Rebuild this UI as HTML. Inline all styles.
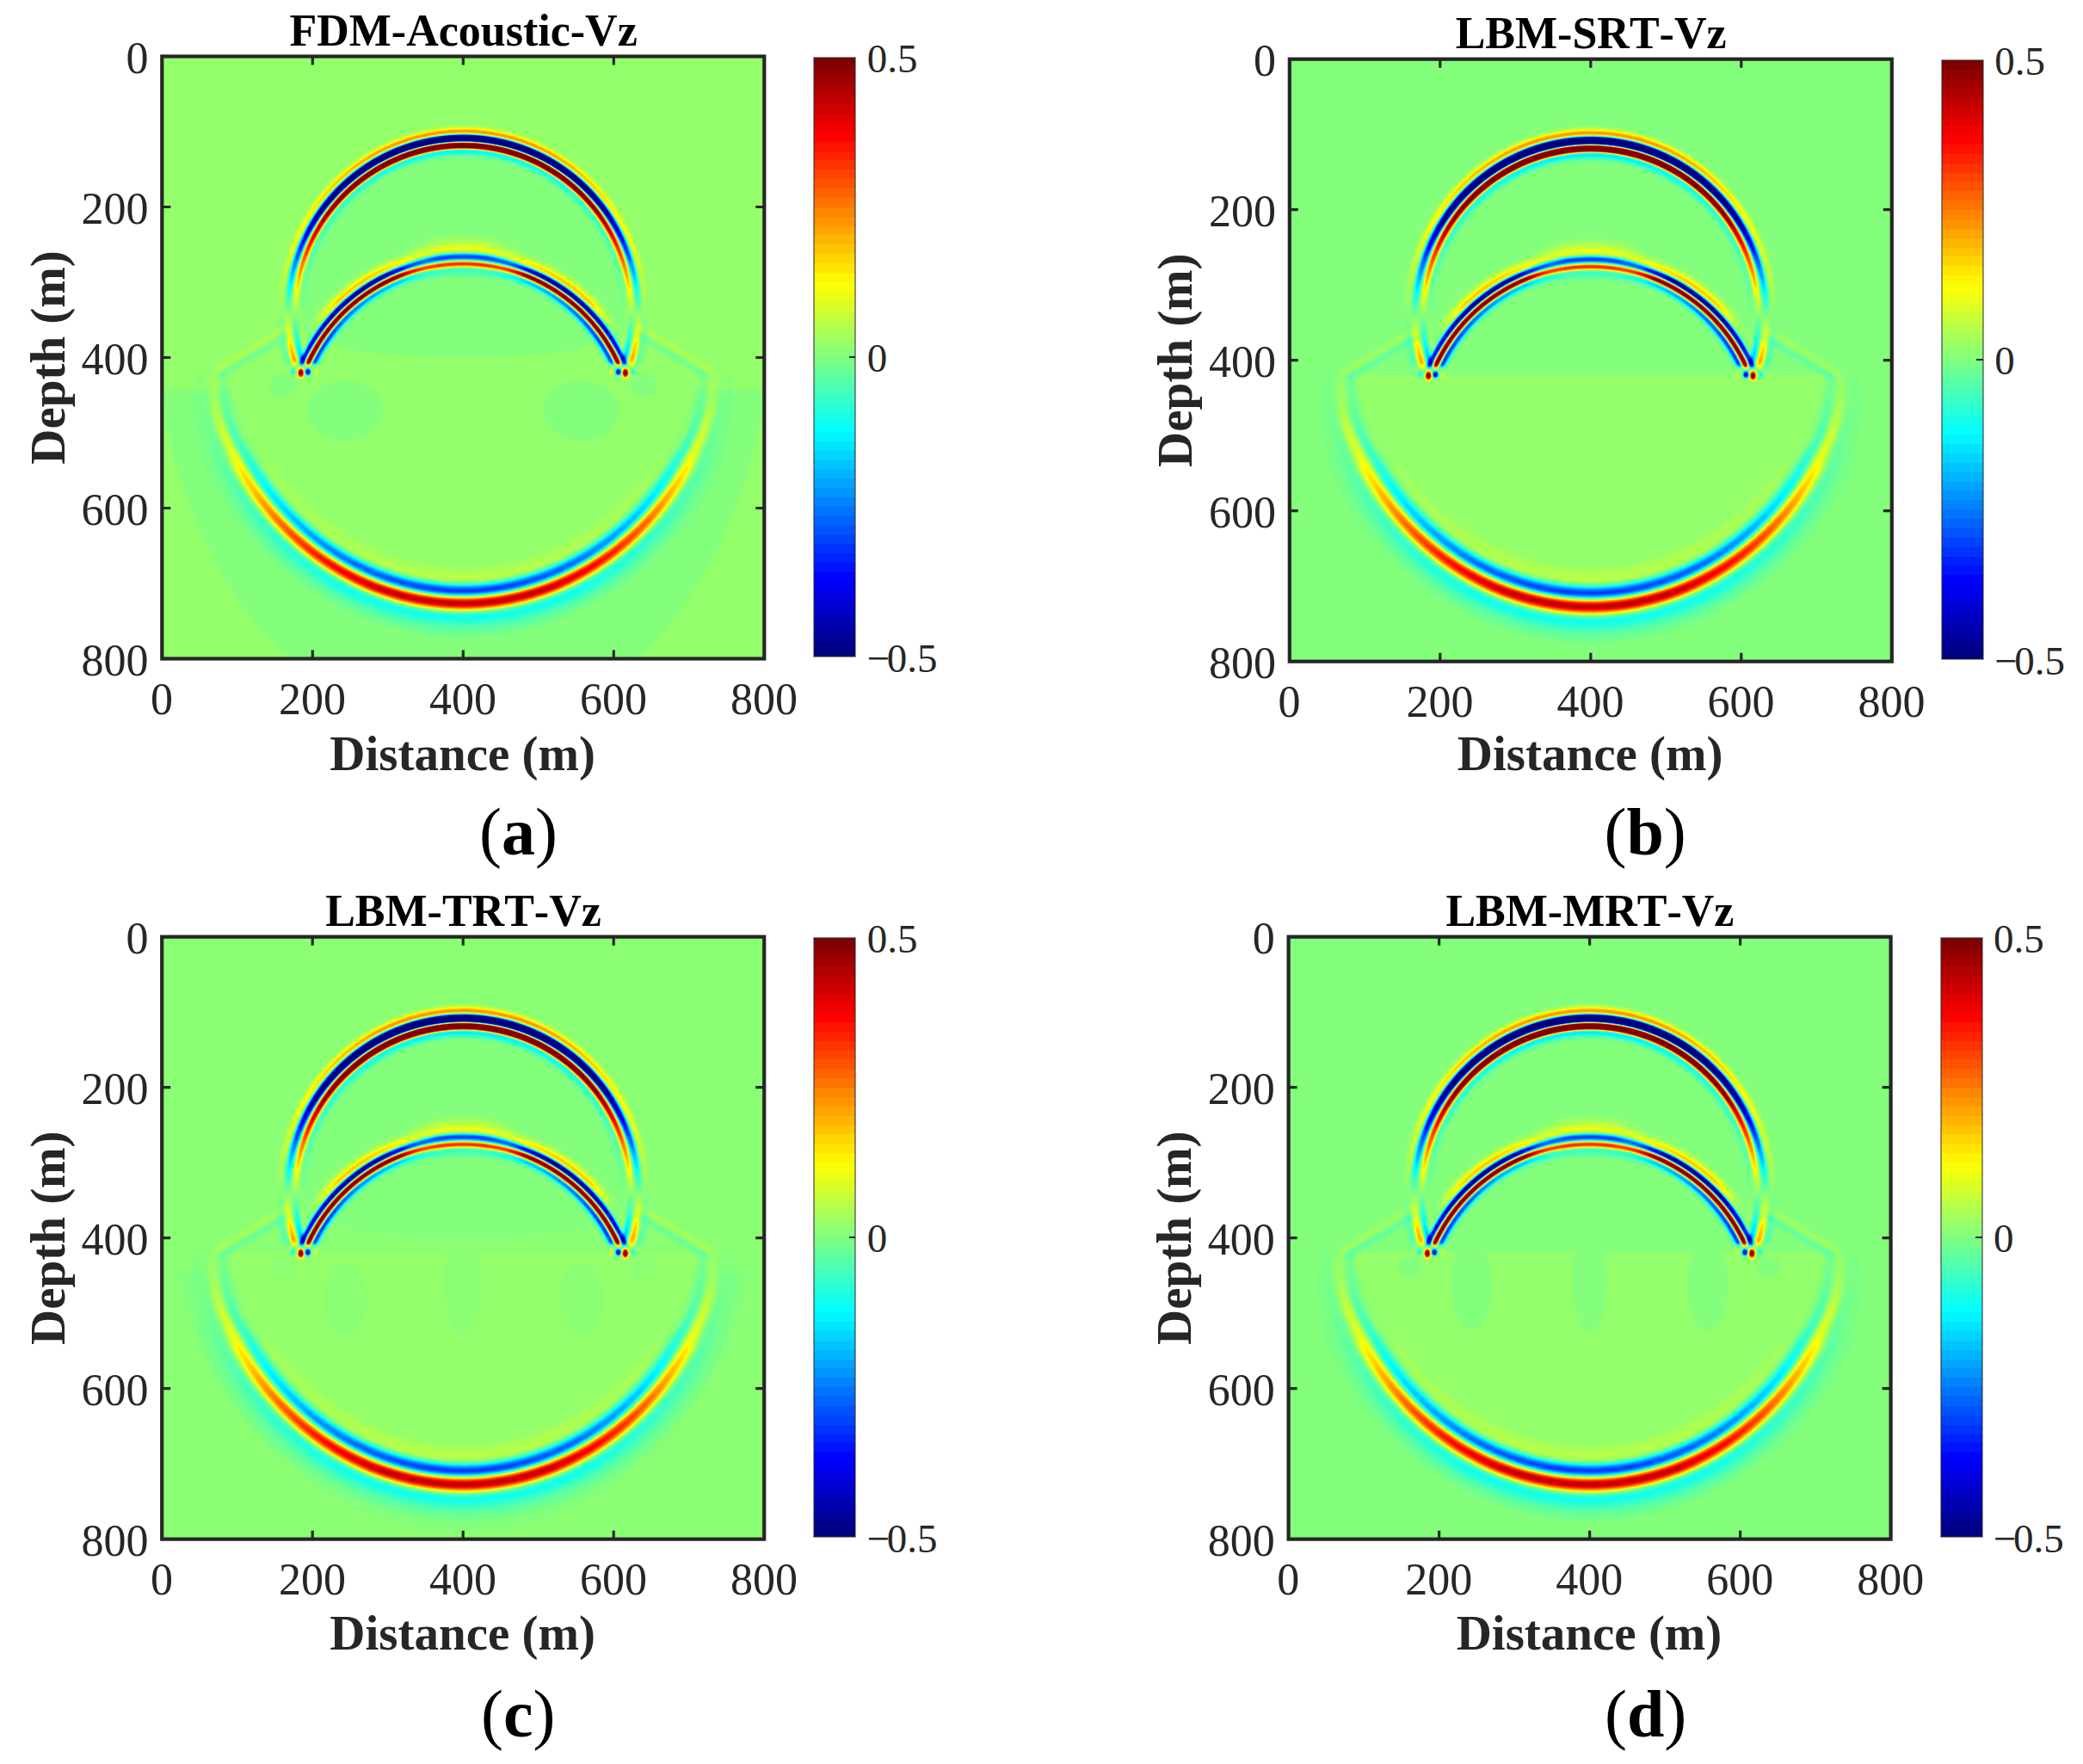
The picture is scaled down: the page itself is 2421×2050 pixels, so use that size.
<!DOCTYPE html>
<html lang="en"><head><meta charset="utf-8"><title>Vz wavefield snapshots</title>
<style>html,body{margin:0;padding:0;background:#fff}svg{display:block}</style></head>
<body>
<svg width="2421" height="2050" viewBox="0 0 2421 2050" style="font-kerning:none">
<defs>
<filter id="jet" filterUnits="userSpaceOnUse" x="-5" y="-5" width="710" height="710" color-interpolation-filters="sRGB"><feGaussianBlur stdDeviation="1.5"/><feComponentTransfer><feFuncR type="table" tableValues="0 0 0 0 0 0 0 0 0.5 1 1 1 0.5 0.5 0.5 0.5 0.5"/><feFuncG type="table" tableValues="0 0 0 0 0 0 0.5 1 1 1 0.5 0 0 0 0 0 0"/><feFuncB type="table" tableValues="0.5 0.5 0.5 0.5 0.5 1 1 1 0.5 0 0 0 0 0 0 0 0"/></feComponentTransfer></filter>
<linearGradient id="lDu" gradientUnits="userSpaceOnUse" x1="0" y1="0" x2="0" y2="700"><stop offset="0" stop-color="#fff" stop-opacity="1"/><stop offset="0.1433" stop-color="#fff" stop-opacity="1"/><stop offset="0.2849" stop-color="#fff" stop-opacity="0.5"/><stop offset="0.4266" stop-color="#fff" stop-opacity="0"/><stop offset="1" stop-color="#fff" stop-opacity="0"/></linearGradient><linearGradient id="lDl" gradientUnits="userSpaceOnUse" x1="0" y1="0" x2="0" y2="700"><stop offset="0" stop-color="#fff" stop-opacity="0"/><stop offset="0.4266" stop-color="#fff" stop-opacity="0"/><stop offset="0.5033" stop-color="#fff" stop-opacity="0.23"/><stop offset="0.5119" stop-color="#fff" stop-opacity="0.1"/><stop offset="0.5154" stop-color="#fff" stop-opacity="0"/><stop offset="1" stop-color="#fff" stop-opacity="0"/></linearGradient><linearGradient id="lRt" gradientUnits="userSpaceOnUse" x1="0" y1="0" x2="0" y2="700"><stop offset="0" stop-color="#fff" stop-opacity="0.92"/><stop offset="0.3391" stop-color="#fff" stop-opacity="0.92"/><stop offset="0.3407" stop-color="#fff" stop-opacity="0.95"/><stop offset="0.3454" stop-color="#fff" stop-opacity="1"/><stop offset="0.3565" stop-color="#fff" stop-opacity="1"/><stop offset="0.5076" stop-color="#fff" stop-opacity="1"/><stop offset="0.514" stop-color="#fff" stop-opacity="0"/><stop offset="1" stop-color="#fff" stop-opacity="0"/></linearGradient><linearGradient id="lRb" gradientUnits="userSpaceOnUse" x1="0" y1="0" x2="0" y2="700"><stop offset="0" stop-color="#fff" stop-opacity="0.5"/><stop offset="0.3391" stop-color="#fff" stop-opacity="0.5"/><stop offset="0.3435" stop-color="#fff" stop-opacity="0.56"/><stop offset="0.3477" stop-color="#fff" stop-opacity="0.62"/><stop offset="0.3532" stop-color="#fff" stop-opacity="0.72"/><stop offset="0.3601" stop-color="#fff" stop-opacity="0.85"/><stop offset="0.3683" stop-color="#fff" stop-opacity="0.96"/><stop offset="0.3777" stop-color="#fff" stop-opacity="1"/><stop offset="0.4002" stop-color="#fff" stop-opacity="1"/><stop offset="0.4235" stop-color="#fff" stop-opacity="0.95"/><stop offset="0.462" stop-color="#fff" stop-opacity="0.8"/><stop offset="0.5054" stop-color="#fff" stop-opacity="0.68"/><stop offset="0.5076" stop-color="#fff" stop-opacity="0.68"/><stop offset="0.514" stop-color="#fff" stop-opacity="0"/><stop offset="1" stop-color="#fff" stop-opacity="0"/></linearGradient><linearGradient id="lRr" gradientUnits="userSpaceOnUse" x1="0" y1="0" x2="0" y2="700"><stop offset="0" stop-color="#fff" stop-opacity="0.5"/><stop offset="0.3391" stop-color="#fff" stop-opacity="0.5"/><stop offset="0.3435" stop-color="#fff" stop-opacity="0.56"/><stop offset="0.3477" stop-color="#fff" stop-opacity="0.62"/><stop offset="0.3532" stop-color="#fff" stop-opacity="0.72"/><stop offset="0.3601" stop-color="#fff" stop-opacity="0.85"/><stop offset="0.3683" stop-color="#fff" stop-opacity="0.96"/><stop offset="0.3777" stop-color="#fff" stop-opacity="1"/><stop offset="0.4002" stop-color="#fff" stop-opacity="1"/><stop offset="0.4235" stop-color="#fff" stop-opacity="1"/><stop offset="0.462" stop-color="#fff" stop-opacity="1"/><stop offset="0.5054" stop-color="#fff" stop-opacity="1"/><stop offset="0.5076" stop-color="#fff" stop-opacity="1"/><stop offset="0.514" stop-color="#fff" stop-opacity="0"/><stop offset="1" stop-color="#fff" stop-opacity="0"/></linearGradient><linearGradient id="lRo" gradientUnits="userSpaceOnUse" x1="0" y1="0" x2="0" y2="700"><stop offset="0" stop-color="#fff" stop-opacity="0.7"/><stop offset="0.3391" stop-color="#fff" stop-opacity="0.7"/><stop offset="0.3435" stop-color="#fff" stop-opacity="0.8"/><stop offset="0.3532" stop-color="#fff" stop-opacity="0.9"/><stop offset="0.3683" stop-color="#fff" stop-opacity="1"/><stop offset="0.4065" stop-color="#fff" stop-opacity="1"/><stop offset="0.4271" stop-color="#fff" stop-opacity="0.6"/><stop offset="0.4459" stop-color="#fff" stop-opacity="0.15"/><stop offset="0.462" stop-color="#fff" stop-opacity="0"/><stop offset="0.5076" stop-color="#fff" stop-opacity="0"/><stop offset="0.514" stop-color="#fff" stop-opacity="0"/><stop offset="1" stop-color="#fff" stop-opacity="0"/></linearGradient><linearGradient id="lRi" gradientUnits="userSpaceOnUse" x1="0" y1="0" x2="0" y2="700"><stop offset="0" stop-color="#fff" stop-opacity="0.25"/><stop offset="0.3391" stop-color="#fff" stop-opacity="0.25"/><stop offset="0.349" stop-color="#fff" stop-opacity="0.3"/><stop offset="0.362" stop-color="#fff" stop-opacity="0.42"/><stop offset="0.3777" stop-color="#fff" stop-opacity="0.55"/><stop offset="0.4235" stop-color="#fff" stop-opacity="0.8"/><stop offset="0.462" stop-color="#fff" stop-opacity="0.95"/><stop offset="0.5054" stop-color="#fff" stop-opacity="1"/><stop offset="0.5076" stop-color="#fff" stop-opacity="1"/><stop offset="0.514" stop-color="#fff" stop-opacity="0"/><stop offset="1" stop-color="#fff" stop-opacity="0"/></linearGradient><linearGradient id="lXt" gradientUnits="userSpaceOnUse" x1="0" y1="0" x2="700" y2="0"><stop offset="0" stop-color="#fff" stop-opacity="0"/><stop offset="0.3971" stop-color="#fff" stop-opacity="0"/><stop offset="0.46" stop-color="#fff" stop-opacity="1"/><stop offset="0.54" stop-color="#fff" stop-opacity="1"/><stop offset="0.6029" stop-color="#fff" stop-opacity="0"/><stop offset="1" stop-color="#fff" stop-opacity="0"/></linearGradient><linearGradient id="lXs" gradientUnits="userSpaceOnUse" x1="0" y1="0" x2="700" y2="0"><stop offset="0" stop-color="#fff" stop-opacity="1"/><stop offset="0.3971" stop-color="#fff" stop-opacity="1"/><stop offset="0.46" stop-color="#fff" stop-opacity="0"/><stop offset="0.54" stop-color="#fff" stop-opacity="0"/><stop offset="0.6029" stop-color="#fff" stop-opacity="1"/><stop offset="1" stop-color="#fff" stop-opacity="1"/></linearGradient><linearGradient id="lT" gradientUnits="userSpaceOnUse" x1="0" y1="0" x2="0" y2="700"><stop offset="0" stop-color="#fff" stop-opacity="0"/><stop offset="0.6371" stop-color="#fff" stop-opacity="0"/><stop offset="0.6443" stop-color="#fff" stop-opacity="0.036"/><stop offset="0.6514" stop-color="#fff" stop-opacity="0.078"/><stop offset="0.6586" stop-color="#fff" stop-opacity="0.125"/><stop offset="0.6657" stop-color="#fff" stop-opacity="0.178"/><stop offset="0.6729" stop-color="#fff" stop-opacity="0.24"/><stop offset="0.68" stop-color="#fff" stop-opacity="0.31"/><stop offset="0.7097" stop-color="#fff" stop-opacity="0.4"/><stop offset="0.7526" stop-color="#fff" stop-opacity="0.55"/><stop offset="0.7954" stop-color="#fff" stop-opacity="0.7"/><stop offset="0.8383" stop-color="#fff" stop-opacity="0.84"/><stop offset="0.874" stop-color="#fff" stop-opacity="0.94"/><stop offset="0.885" stop-color="#fff" stop-opacity="1"/><stop offset="1" stop-color="#fff" stop-opacity="1"/></linearGradient><linearGradient id="lT2" gradientUnits="userSpaceOnUse" x1="0" y1="0" x2="0" y2="700"><stop offset="0" stop-color="#fff" stop-opacity="0"/><stop offset="0.5211" stop-color="#fff" stop-opacity="0"/><stop offset="0.5269" stop-color="#fff" stop-opacity="0.032"/><stop offset="0.5383" stop-color="#fff" stop-opacity="0.04"/><stop offset="0.5526" stop-color="#fff" stop-opacity="0.05"/><stop offset="0.5669" stop-color="#fff" stop-opacity="0.07"/><stop offset="0.5811" stop-color="#fff" stop-opacity="0.09"/><stop offset="0.5954" stop-color="#fff" stop-opacity="0.117"/><stop offset="0.6097" stop-color="#fff" stop-opacity="0.143"/><stop offset="0.624" stop-color="#fff" stop-opacity="0.17"/><stop offset="0.6371" stop-color="#fff" stop-opacity="0.201"/><stop offset="0.6443" stop-color="#fff" stop-opacity="0.181"/><stop offset="0.6514" stop-color="#fff" stop-opacity="0.156"/><stop offset="0.6586" stop-color="#fff" stop-opacity="0.125"/><stop offset="0.6657" stop-color="#fff" stop-opacity="0.089"/><stop offset="0.6729" stop-color="#fff" stop-opacity="0.048"/><stop offset="0.68" stop-color="#fff" stop-opacity="0"/><stop offset="1" stop-color="#fff" stop-opacity="0"/></linearGradient><mask id="mDu" maskUnits="userSpaceOnUse" x="-5" y="-5" width="710" height="710"><rect x="-5" y="-5" width="710" height="710" fill="url(#lDu)"/></mask><mask id="mDl" maskUnits="userSpaceOnUse" x="-5" y="-5" width="710" height="710"><rect x="-5" y="-5" width="710" height="710" fill="url(#lDl)"/></mask><mask id="mRt" maskUnits="userSpaceOnUse" x="-5" y="-5" width="710" height="710"><rect x="-5" y="-5" width="710" height="710" fill="url(#lRt)"/></mask><mask id="mRb" maskUnits="userSpaceOnUse" x="-5" y="-5" width="710" height="710"><rect x="-5" y="-5" width="710" height="710" fill="url(#lRb)"/></mask><mask id="mRr" maskUnits="userSpaceOnUse" x="-5" y="-5" width="710" height="710"><rect x="-5" y="-5" width="710" height="710" fill="url(#lRr)"/></mask><mask id="mRo" maskUnits="userSpaceOnUse" x="-5" y="-5" width="710" height="710"><rect x="-5" y="-5" width="710" height="710" fill="url(#lRo)"/></mask><mask id="mRi" maskUnits="userSpaceOnUse" x="-5" y="-5" width="710" height="710"><rect x="-5" y="-5" width="710" height="710" fill="url(#lRi)"/></mask><mask id="mXt" maskUnits="userSpaceOnUse" x="-5" y="-5" width="710" height="710"><rect x="-5" y="-5" width="710" height="710" fill="url(#lXt)"/></mask><mask id="mXs" maskUnits="userSpaceOnUse" x="-5" y="-5" width="710" height="710"><rect x="-5" y="-5" width="710" height="710" fill="url(#lXs)"/></mask><mask id="mT" maskUnits="userSpaceOnUse" x="-5" y="-5" width="710" height="710"><rect x="-5" y="-5" width="710" height="710" fill="url(#lT)"/></mask><mask id="mT2" maskUnits="userSpaceOnUse" x="-5" y="-5" width="710" height="710"><rect x="-5" y="-5" width="710" height="710" fill="url(#lT2)"/></mask><radialGradient id="dw"><stop offset="0" stop-color="#fff" stop-opacity="1"/><stop offset="0.4" stop-color="#fff" stop-opacity="0.7"/><stop offset="1" stop-color="#fff" stop-opacity="0"/></radialGradient><radialGradient id="dk"><stop offset="0" stop-color="#000" stop-opacity="1"/><stop offset="0.4" stop-color="#000" stop-opacity="0.7"/><stop offset="1" stop-color="#000" stop-opacity="0"/></radialGradient><clipPath id="cpU"><rect x="-5" y="-5" width="710" height="363.3"/></clipPath><clipPath id="cpI"><rect x="0" y="0" width="700" height="335"/></clipPath><clipPath id="cpBd"><rect x="-5" y="387" width="710" height="700"/></clipPath><clipPath id="cpL"><rect x="-5" y="366.8" width="710" height="338.2"/></clipPath><clipPath id="cpB"><rect x="0" y="0" width="700" height="700"/></clipPath>
<radialGradient id="gDa" gradientUnits="userSpaceOnUse" cx="350" cy="298.6" r="221.8"><stop offset="0.8073" stop-color="#000" stop-opacity="0"/><stop offset="0.8115" stop-color="#000" stop-opacity="0.002"/><stop offset="0.8161" stop-color="#000" stop-opacity="0.007"/><stop offset="0.8206" stop-color="#000" stop-opacity="0.016"/><stop offset="0.8251" stop-color="#000" stop-opacity="0.026"/><stop offset="0.8265" stop-color="#000" stop-opacity="0.03"/><stop offset="0.8296" stop-color="#000" stop-opacity="0.04"/><stop offset="0.8341" stop-color="#000" stop-opacity="0.064"/><stop offset="0.8386" stop-color="#000" stop-opacity="0.093"/><stop offset="0.8394" stop-color="#000" stop-opacity="0.099"/><stop offset="0.8431" stop-color="#000" stop-opacity="0.137"/><stop offset="0.8476" stop-color="#000" stop-opacity="0.187"/><stop offset="0.8501" stop-color="#000" stop-opacity="0.198"/><stop offset="0.8521" stop-color="#000" stop-opacity="0.19"/><stop offset="0.8566" stop-color="#000" stop-opacity="0.139"/><stop offset="0.8574" stop-color="#000" stop-opacity="0.128"/><stop offset="0.8611" stop-color="#000" stop-opacity="0.048"/><stop offset="0.8625" stop-color="#000" stop-opacity="0"/><stop offset="0.8625" stop-color="#fff" stop-opacity="0"/><stop offset="0.8656" stop-color="#fff" stop-opacity="0.276"/><stop offset="0.8683" stop-color="#fff" stop-opacity="0.557"/><stop offset="0.8702" stop-color="#fff" stop-opacity="0.71"/><stop offset="0.8741" stop-color="#fff" stop-opacity="0.964"/><stop offset="0.8747" stop-color="#fff" stop-opacity="0.986"/><stop offset="0.8792" stop-color="#fff" stop-opacity="1"/><stop offset="0.8799" stop-color="#fff" stop-opacity="1"/><stop offset="0.8837" stop-color="#fff" stop-opacity="1"/><stop offset="0.8856" stop-color="#fff" stop-opacity="0.964"/><stop offset="0.8882" stop-color="#fff" stop-opacity="0.818"/><stop offset="0.8914" stop-color="#fff" stop-opacity="0.556"/><stop offset="0.8927" stop-color="#fff" stop-opacity="0.444"/><stop offset="0.8972" stop-color="#fff" stop-opacity="0"/><stop offset="0.8972" stop-color="#000" stop-opacity="0"/><stop offset="0.9017" stop-color="#000" stop-opacity="0.377"/><stop offset="0.904" stop-color="#000" stop-opacity="0.543"/><stop offset="0.9062" stop-color="#000" stop-opacity="0.697"/><stop offset="0.9107" stop-color="#000" stop-opacity="0.94"/><stop offset="0.9108" stop-color="#000" stop-opacity="0.941"/><stop offset="0.9152" stop-color="#000" stop-opacity="1"/><stop offset="0.9175" stop-color="#000" stop-opacity="1"/><stop offset="0.9197" stop-color="#000" stop-opacity="1"/><stop offset="0.9243" stop-color="#000" stop-opacity="0.944"/><stop offset="0.9243" stop-color="#000" stop-opacity="0.941"/><stop offset="0.9288" stop-color="#000" stop-opacity="0.705"/><stop offset="0.9311" stop-color="#000" stop-opacity="0.543"/><stop offset="0.9333" stop-color="#000" stop-opacity="0.363"/><stop offset="0.9378" stop-color="#000" stop-opacity="0.004"/><stop offset="0.9379" stop-color="#000" stop-opacity="0"/><stop offset="0.9379" stop-color="#fff" stop-opacity="0"/><stop offset="0.9423" stop-color="#fff" stop-opacity="0.115"/><stop offset="0.9426" stop-color="#fff" stop-opacity="0.121"/><stop offset="0.9468" stop-color="#fff" stop-opacity="0.22"/><stop offset="0.9513" stop-color="#fff" stop-opacity="0.283"/><stop offset="0.9516" stop-color="#fff" stop-opacity="0.283"/><stop offset="0.9558" stop-color="#fff" stop-opacity="0.25"/><stop offset="0.9603" stop-color="#fff" stop-opacity="0.185"/><stop offset="0.9615" stop-color="#fff" stop-opacity="0.172"/><stop offset="0.9648" stop-color="#fff" stop-opacity="0.137"/><stop offset="0.9693" stop-color="#fff" stop-opacity="0.092"/><stop offset="0.9722" stop-color="#fff" stop-opacity="0.071"/><stop offset="0.9739" stop-color="#fff" stop-opacity="0.06"/><stop offset="0.9784" stop-color="#fff" stop-opacity="0.034"/><stop offset="0.9829" stop-color="#fff" stop-opacity="0.013"/><stop offset="0.9872" stop-color="#fff" stop-opacity="0"/></radialGradient><radialGradient id="gDia" gradientUnits="userSpaceOnUse" cx="350" cy="298.6" r="221.8"><stop offset="0.8073" stop-color="#fff" stop-opacity="0"/><stop offset="0.8115" stop-color="#fff" stop-opacity="0.002"/><stop offset="0.8161" stop-color="#fff" stop-opacity="0.008"/><stop offset="0.8206" stop-color="#fff" stop-opacity="0.016"/><stop offset="0.8251" stop-color="#fff" stop-opacity="0.027"/><stop offset="0.8265" stop-color="#fff" stop-opacity="0.03"/><stop offset="0.8296" stop-color="#fff" stop-opacity="0.041"/><stop offset="0.8341" stop-color="#fff" stop-opacity="0.065"/><stop offset="0.8386" stop-color="#fff" stop-opacity="0.096"/><stop offset="0.8394" stop-color="#fff" stop-opacity="0.101"/><stop offset="0.8431" stop-color="#fff" stop-opacity="0.14"/><stop offset="0.8476" stop-color="#fff" stop-opacity="0.192"/><stop offset="0.8501" stop-color="#fff" stop-opacity="0.202"/><stop offset="0.8521" stop-color="#fff" stop-opacity="0.195"/><stop offset="0.8566" stop-color="#fff" stop-opacity="0.142"/><stop offset="0.8574" stop-color="#fff" stop-opacity="0.132"/><stop offset="0.8611" stop-color="#fff" stop-opacity="0.049"/><stop offset="0.8625" stop-color="#fff" stop-opacity="0"/><stop offset="0.8625" stop-color="#000" stop-opacity="0"/><stop offset="0.8656" stop-color="#000" stop-opacity="0.27"/><stop offset="0.8683" stop-color="#000" stop-opacity="0.544"/><stop offset="0.8702" stop-color="#000" stop-opacity="0.694"/><stop offset="0.8741" stop-color="#000" stop-opacity="0.941"/><stop offset="0.8747" stop-color="#000" stop-opacity="0.963"/><stop offset="0.8792" stop-color="#000" stop-opacity="1"/><stop offset="0.8799" stop-color="#000" stop-opacity="1"/><stop offset="0.8837" stop-color="#000" stop-opacity="1"/><stop offset="0.8856" stop-color="#000" stop-opacity="0.941"/><stop offset="0.8882" stop-color="#000" stop-opacity="0.798"/><stop offset="0.8914" stop-color="#000" stop-opacity="0.543"/><stop offset="0.8927" stop-color="#000" stop-opacity="0.433"/><stop offset="0.8972" stop-color="#000" stop-opacity="0"/><stop offset="0.8972" stop-color="#fff" stop-opacity="0"/><stop offset="0.9017" stop-color="#fff" stop-opacity="0.386"/><stop offset="0.904" stop-color="#fff" stop-opacity="0.557"/><stop offset="0.9062" stop-color="#fff" stop-opacity="0.714"/><stop offset="0.9107" stop-color="#fff" stop-opacity="0.963"/><stop offset="0.9108" stop-color="#fff" stop-opacity="0.964"/><stop offset="0.9152" stop-color="#fff" stop-opacity="1"/><stop offset="0.9175" stop-color="#fff" stop-opacity="1"/><stop offset="0.9197" stop-color="#fff" stop-opacity="1"/><stop offset="0.9243" stop-color="#fff" stop-opacity="0.967"/><stop offset="0.9243" stop-color="#fff" stop-opacity="0.964"/><stop offset="0.9288" stop-color="#fff" stop-opacity="0.722"/><stop offset="0.9311" stop-color="#fff" stop-opacity="0.557"/><stop offset="0.9333" stop-color="#fff" stop-opacity="0.371"/><stop offset="0.9378" stop-color="#fff" stop-opacity="0.004"/><stop offset="0.9379" stop-color="#fff" stop-opacity="0"/><stop offset="0.9379" stop-color="#000" stop-opacity="0"/><stop offset="0.9423" stop-color="#000" stop-opacity="0.112"/><stop offset="0.9426" stop-color="#000" stop-opacity="0.119"/><stop offset="0.9468" stop-color="#000" stop-opacity="0.215"/><stop offset="0.9513" stop-color="#000" stop-opacity="0.276"/><stop offset="0.9516" stop-color="#000" stop-opacity="0.277"/><stop offset="0.9558" stop-color="#000" stop-opacity="0.244"/><stop offset="0.9603" stop-color="#000" stop-opacity="0.181"/><stop offset="0.9615" stop-color="#000" stop-opacity="0.168"/><stop offset="0.9648" stop-color="#000" stop-opacity="0.133"/><stop offset="0.9693" stop-color="#000" stop-opacity="0.09"/><stop offset="0.9722" stop-color="#000" stop-opacity="0.069"/><stop offset="0.9739" stop-color="#000" stop-opacity="0.059"/><stop offset="0.9784" stop-color="#000" stop-opacity="0.033"/><stop offset="0.9829" stop-color="#000" stop-opacity="0.012"/><stop offset="0.9872" stop-color="#000" stop-opacity="0"/></radialGradient><radialGradient id="gRoa" gradientUnits="userSpaceOnUse" cx="350" cy="439" r="234.6"><stop offset="0.8883" stop-color="#fff" stop-opacity="0"/><stop offset="0.8892" stop-color="#fff" stop-opacity="0.018"/><stop offset="0.8934" stop-color="#fff" stop-opacity="0.098"/><stop offset="0.8943" stop-color="#fff" stop-opacity="0.111"/><stop offset="0.8977" stop-color="#fff" stop-opacity="0.165"/><stop offset="0.902" stop-color="#fff" stop-opacity="0.211"/><stop offset="0.9028" stop-color="#fff" stop-opacity="0.213"/><stop offset="0.9062" stop-color="#fff" stop-opacity="0.2"/><stop offset="0.9105" stop-color="#fff" stop-opacity="0.167"/><stop offset="0.9126" stop-color="#fff" stop-opacity="0.152"/><stop offset="0.9147" stop-color="#fff" stop-opacity="0.138"/><stop offset="0.919" stop-color="#fff" stop-opacity="0.108"/><stop offset="0.9233" stop-color="#fff" stop-opacity="0.081"/><stop offset="0.9254" stop-color="#fff" stop-opacity="0.071"/><stop offset="0.9275" stop-color="#fff" stop-opacity="0.062"/><stop offset="0.9318" stop-color="#fff" stop-opacity="0.047"/><stop offset="0.9361" stop-color="#fff" stop-opacity="0.035"/><stop offset="0.9403" stop-color="#fff" stop-opacity="0.025"/><stop offset="0.9446" stop-color="#fff" stop-opacity="0.018"/><stop offset="0.9488" stop-color="#fff" stop-opacity="0.011"/><stop offset="0.9531" stop-color="#fff" stop-opacity="0.006"/><stop offset="0.9574" stop-color="#fff" stop-opacity="0.002"/><stop offset="0.9616" stop-color="#fff" stop-opacity="0"/></radialGradient><radialGradient id="gRba" gradientUnits="userSpaceOnUse" cx="350" cy="439" r="234.6"><stop offset="0.8593" stop-color="#000" stop-opacity="0"/><stop offset="0.8636" stop-color="#000" stop-opacity="0.32"/><stop offset="0.8642" stop-color="#000" stop-opacity="0.356"/><stop offset="0.8679" stop-color="#000" stop-opacity="0.573"/><stop offset="0.869" stop-color="#000" stop-opacity="0.616"/><stop offset="0.8721" stop-color="#000" stop-opacity="0.695"/><stop offset="0.8738" stop-color="#000" stop-opacity="0.711"/><stop offset="0.8764" stop-color="#000" stop-opacity="0.678"/><stop offset="0.8787" stop-color="#000" stop-opacity="0.616"/><stop offset="0.8806" stop-color="#000" stop-opacity="0.53"/><stop offset="0.8835" stop-color="#000" stop-opacity="0.356"/><stop offset="0.8849" stop-color="#000" stop-opacity="0.262"/><stop offset="0.8883" stop-color="#000" stop-opacity="0"/></radialGradient><radialGradient id="gRra" gradientUnits="userSpaceOnUse" cx="350" cy="439" r="234.6"><stop offset="0.8303" stop-color="#fff" stop-opacity="0"/><stop offset="0.8338" stop-color="#fff" stop-opacity="0.268"/><stop offset="0.8352" stop-color="#fff" stop-opacity="0.364"/><stop offset="0.838" stop-color="#fff" stop-opacity="0.543"/><stop offset="0.84" stop-color="#fff" stop-opacity="0.631"/><stop offset="0.8423" stop-color="#fff" stop-opacity="0.694"/><stop offset="0.8448" stop-color="#fff" stop-opacity="0.729"/><stop offset="0.8465" stop-color="#fff" stop-opacity="0.712"/><stop offset="0.8497" stop-color="#fff" stop-opacity="0.631"/><stop offset="0.8508" stop-color="#fff" stop-opacity="0.587"/><stop offset="0.8545" stop-color="#fff" stop-opacity="0.364"/><stop offset="0.8551" stop-color="#fff" stop-opacity="0.327"/><stop offset="0.8593" stop-color="#fff" stop-opacity="0"/></radialGradient><radialGradient id="gRia" gradientUnits="userSpaceOnUse" cx="350" cy="439" r="234.6"><stop offset="0.7826" stop-color="#000" stop-opacity="0"/><stop offset="0.7869" stop-color="#000" stop-opacity="0.005"/><stop offset="0.7911" stop-color="#000" stop-opacity="0.018"/><stop offset="0.7954" stop-color="#000" stop-opacity="0.038"/><stop offset="0.7975" stop-color="#000" stop-opacity="0.049"/><stop offset="0.7997" stop-color="#000" stop-opacity="0.068"/><stop offset="0.8039" stop-color="#000" stop-opacity="0.133"/><stop offset="0.8082" stop-color="#000" stop-opacity="0.217"/><stop offset="0.8124" stop-color="#000" stop-opacity="0.358"/><stop offset="0.8167" stop-color="#000" stop-opacity="0.455"/><stop offset="0.821" stop-color="#000" stop-opacity="0.394"/><stop offset="0.8244" stop-color="#000" stop-opacity="0.296"/><stop offset="0.8252" stop-color="#000" stop-opacity="0.268"/><stop offset="0.8295" stop-color="#000" stop-opacity="0.052"/><stop offset="0.8303" stop-color="#000" stop-opacity="0"/></radialGradient><radialGradient id="gRta" gradientUnits="userSpaceOnUse" cx="350" cy="439" r="234.6"><stop offset="0.772" stop-color="#000" stop-opacity="0"/><stop offset="0.7741" stop-color="#000" stop-opacity="0.002"/><stop offset="0.7783" stop-color="#000" stop-opacity="0.008"/><stop offset="0.7826" stop-color="#000" stop-opacity="0.014"/><stop offset="0.7869" stop-color="#000" stop-opacity="0.021"/><stop offset="0.7911" stop-color="#000" stop-opacity="0.03"/><stop offset="0.7954" stop-color="#000" stop-opacity="0.04"/><stop offset="0.7997" stop-color="#000" stop-opacity="0.052"/><stop offset="0.8039" stop-color="#000" stop-opacity="0.064"/><stop offset="0.8061" stop-color="#000" stop-opacity="0.069"/><stop offset="0.8082" stop-color="#000" stop-opacity="0.074"/><stop offset="0.8124" stop-color="#000" stop-opacity="0.082"/><stop offset="0.8146" stop-color="#000" stop-opacity="0.084"/><stop offset="0.8167" stop-color="#000" stop-opacity="0.08"/><stop offset="0.821" stop-color="#000" stop-opacity="0.055"/><stop offset="0.8218" stop-color="#000" stop-opacity="0.049"/><stop offset="0.8252" stop-color="#000" stop-opacity="0.025"/><stop offset="0.8274" stop-color="#000" stop-opacity="0"/><stop offset="0.8274" stop-color="#fff" stop-opacity="0"/><stop offset="0.8295" stop-color="#fff" stop-opacity="0.068"/><stop offset="0.8327" stop-color="#fff" stop-opacity="0.207"/><stop offset="0.8338" stop-color="#fff" stop-opacity="0.243"/><stop offset="0.838" stop-color="#fff" stop-opacity="0.359"/><stop offset="0.8423" stop-color="#fff" stop-opacity="0.412"/><stop offset="0.8434" stop-color="#fff" stop-opacity="0.415"/><stop offset="0.8465" stop-color="#fff" stop-opacity="0.391"/><stop offset="0.8487" stop-color="#fff" stop-opacity="0.359"/><stop offset="0.8508" stop-color="#fff" stop-opacity="0.311"/><stop offset="0.854" stop-color="#fff" stop-opacity="0.207"/><stop offset="0.8551" stop-color="#fff" stop-opacity="0.169"/><stop offset="0.8593" stop-color="#fff" stop-opacity="0"/><stop offset="0.8593" stop-color="#000" stop-opacity="0"/><stop offset="0.8636" stop-color="#000" stop-opacity="0.135"/><stop offset="0.8659" stop-color="#000" stop-opacity="0.198"/><stop offset="0.8679" stop-color="#000" stop-opacity="0.249"/><stop offset="0.8721" stop-color="#000" stop-opacity="0.339"/><stop offset="0.8724" stop-color="#000" stop-opacity="0.342"/><stop offset="0.8764" stop-color="#000" stop-opacity="0.385"/><stop offset="0.8789" stop-color="#000" stop-opacity="0.395"/><stop offset="0.8806" stop-color="#000" stop-opacity="0.39"/><stop offset="0.8849" stop-color="#000" stop-opacity="0.349"/><stop offset="0.8855" stop-color="#000" stop-opacity="0.342"/><stop offset="0.8892" stop-color="#000" stop-opacity="0.271"/><stop offset="0.892" stop-color="#000" stop-opacity="0.198"/><stop offset="0.8934" stop-color="#000" stop-opacity="0.155"/><stop offset="0.8977" stop-color="#000" stop-opacity="0.017"/><stop offset="0.8986" stop-color="#000" stop-opacity="0"/><stop offset="0.8986" stop-color="#fff" stop-opacity="0"/><stop offset="0.902" stop-color="#fff" stop-opacity="0.042"/><stop offset="0.9054" stop-color="#fff" stop-opacity="0.071"/><stop offset="0.9062" stop-color="#fff" stop-opacity="0.077"/><stop offset="0.9105" stop-color="#fff" stop-opacity="0.109"/><stop offset="0.9143" stop-color="#fff" stop-opacity="0.121"/><stop offset="0.9147" stop-color="#fff" stop-opacity="0.121"/><stop offset="0.919" stop-color="#fff" stop-opacity="0.118"/><stop offset="0.9233" stop-color="#fff" stop-opacity="0.11"/><stop offset="0.9275" stop-color="#fff" stop-opacity="0.101"/><stop offset="0.9318" stop-color="#fff" stop-opacity="0.092"/><stop offset="0.9361" stop-color="#fff" stop-opacity="0.081"/><stop offset="0.9403" stop-color="#fff" stop-opacity="0.07"/><stop offset="0.9446" stop-color="#fff" stop-opacity="0.061"/><stop offset="0.9488" stop-color="#fff" stop-opacity="0.054"/><stop offset="0.9531" stop-color="#fff" stop-opacity="0.047"/><stop offset="0.9574" stop-color="#fff" stop-opacity="0.041"/><stop offset="0.9616" stop-color="#fff" stop-opacity="0.036"/><stop offset="0.9659" stop-color="#fff" stop-opacity="0.03"/><stop offset="0.9702" stop-color="#fff" stop-opacity="0.025"/><stop offset="0.9744" stop-color="#fff" stop-opacity="0.02"/><stop offset="0.9787" stop-color="#fff" stop-opacity="0.014"/><stop offset="0.9829" stop-color="#fff" stop-opacity="0.009"/><stop offset="0.9872" stop-color="#fff" stop-opacity="0.005"/><stop offset="0.9915" stop-color="#fff" stop-opacity="0"/></radialGradient><radialGradient id="gTa" gradientUnits="userSpaceOnUse" cx="0" cy="0" r="1.1597" gradientTransform="translate(350.0 301.8) scale(298.0 325.7)"><stop offset="0.7601" stop-color="#fff" stop-opacity="0"/><stop offset="0.7617" stop-color="#fff" stop-opacity="0.002"/><stop offset="0.7644" stop-color="#fff" stop-opacity="0.005"/><stop offset="0.767" stop-color="#fff" stop-opacity="0.009"/><stop offset="0.7697" stop-color="#fff" stop-opacity="0.012"/><stop offset="0.7723" stop-color="#fff" stop-opacity="0.016"/><stop offset="0.775" stop-color="#fff" stop-opacity="0.019"/><stop offset="0.7776" stop-color="#fff" stop-opacity="0.023"/><stop offset="0.7802" stop-color="#fff" stop-opacity="0.027"/><stop offset="0.7829" stop-color="#fff" stop-opacity="0.03"/><stop offset="0.7855" stop-color="#fff" stop-opacity="0.035"/><stop offset="0.7882" stop-color="#fff" stop-opacity="0.04"/><stop offset="0.7908" stop-color="#fff" stop-opacity="0.045"/><stop offset="0.7935" stop-color="#fff" stop-opacity="0.05"/><stop offset="0.7961" stop-color="#fff" stop-opacity="0.055"/><stop offset="0.7988" stop-color="#fff" stop-opacity="0.058"/><stop offset="0.8014" stop-color="#fff" stop-opacity="0.06"/><stop offset="0.8028" stop-color="#fff" stop-opacity="0.061"/><stop offset="0.8041" stop-color="#fff" stop-opacity="0.06"/><stop offset="0.8067" stop-color="#fff" stop-opacity="0.057"/><stop offset="0.8094" stop-color="#fff" stop-opacity="0.052"/><stop offset="0.812" stop-color="#fff" stop-opacity="0.044"/><stop offset="0.8133" stop-color="#fff" stop-opacity="0.04"/><stop offset="0.8147" stop-color="#fff" stop-opacity="0.035"/><stop offset="0.8173" stop-color="#fff" stop-opacity="0.019"/><stop offset="0.8197" stop-color="#fff" stop-opacity="0"/><stop offset="0.8197" stop-color="#000" stop-opacity="0"/><stop offset="0.82" stop-color="#000" stop-opacity="0.002"/><stop offset="0.8226" stop-color="#000" stop-opacity="0.036"/><stop offset="0.8253" stop-color="#000" stop-opacity="0.08"/><stop offset="0.8279" stop-color="#000" stop-opacity="0.127"/><stop offset="0.8292" stop-color="#000" stop-opacity="0.148"/><stop offset="0.8306" stop-color="#000" stop-opacity="0.169"/><stop offset="0.8332" stop-color="#000" stop-opacity="0.213"/><stop offset="0.8358" stop-color="#000" stop-opacity="0.254"/><stop offset="0.8385" stop-color="#000" stop-opacity="0.287"/><stop offset="0.8411" stop-color="#000" stop-opacity="0.314"/><stop offset="0.8438" stop-color="#000" stop-opacity="0.335"/><stop offset="0.8456" stop-color="#000" stop-opacity="0.341"/><stop offset="0.8464" stop-color="#000" stop-opacity="0.339"/><stop offset="0.8491" stop-color="#000" stop-opacity="0.317"/><stop offset="0.8517" stop-color="#000" stop-opacity="0.278"/><stop offset="0.8536" stop-color="#000" stop-opacity="0.247"/><stop offset="0.8544" stop-color="#000" stop-opacity="0.232"/><stop offset="0.857" stop-color="#000" stop-opacity="0.166"/><stop offset="0.8597" stop-color="#000" stop-opacity="0.083"/><stop offset="0.8623" stop-color="#000" stop-opacity="0"/><stop offset="0.8623" stop-color="#fff" stop-opacity="0"/><stop offset="0.865" stop-color="#fff" stop-opacity="0.087"/><stop offset="0.8676" stop-color="#fff" stop-opacity="0.176"/><stop offset="0.8703" stop-color="#fff" stop-opacity="0.253"/><stop offset="0.8729" stop-color="#fff" stop-opacity="0.318"/><stop offset="0.8756" stop-color="#fff" stop-opacity="0.375"/><stop offset="0.8782" stop-color="#fff" stop-opacity="0.415"/><stop offset="0.8809" stop-color="#fff" stop-opacity="0.442"/><stop offset="0.8835" stop-color="#fff" stop-opacity="0.455"/><stop offset="0.8862" stop-color="#fff" stop-opacity="0.446"/><stop offset="0.8888" stop-color="#fff" stop-opacity="0.423"/><stop offset="0.8914" stop-color="#fff" stop-opacity="0.395"/><stop offset="0.8941" stop-color="#fff" stop-opacity="0.353"/><stop offset="0.8967" stop-color="#fff" stop-opacity="0.295"/><stop offset="0.8994" stop-color="#fff" stop-opacity="0.232"/><stop offset="0.9007" stop-color="#fff" stop-opacity="0.202"/><stop offset="0.902" stop-color="#fff" stop-opacity="0.172"/><stop offset="0.9047" stop-color="#fff" stop-opacity="0.106"/><stop offset="0.9073" stop-color="#fff" stop-opacity="0.043"/><stop offset="0.9097" stop-color="#fff" stop-opacity="0"/><stop offset="0.9097" stop-color="#000" stop-opacity="0"/><stop offset="0.91" stop-color="#000" stop-opacity="0.004"/><stop offset="0.9126" stop-color="#000" stop-opacity="0.035"/><stop offset="0.9153" stop-color="#000" stop-opacity="0.06"/><stop offset="0.9166" stop-color="#000" stop-opacity="0.069"/><stop offset="0.9179" stop-color="#000" stop-opacity="0.078"/><stop offset="0.9206" stop-color="#000" stop-opacity="0.094"/><stop offset="0.9232" stop-color="#000" stop-opacity="0.107"/><stop offset="0.9259" stop-color="#000" stop-opacity="0.113"/><stop offset="0.9264" stop-color="#000" stop-opacity="0.114"/><stop offset="0.9285" stop-color="#000" stop-opacity="0.112"/><stop offset="0.9312" stop-color="#000" stop-opacity="0.108"/><stop offset="0.9338" stop-color="#000" stop-opacity="0.102"/><stop offset="0.9365" stop-color="#000" stop-opacity="0.095"/><stop offset="0.9391" stop-color="#000" stop-opacity="0.089"/><stop offset="0.9418" stop-color="#000" stop-opacity="0.083"/><stop offset="0.9444" stop-color="#000" stop-opacity="0.076"/><stop offset="0.947" stop-color="#000" stop-opacity="0.069"/><stop offset="0.9497" stop-color="#000" stop-opacity="0.062"/><stop offset="0.9523" stop-color="#000" stop-opacity="0.056"/><stop offset="0.955" stop-color="#000" stop-opacity="0.05"/><stop offset="0.9576" stop-color="#000" stop-opacity="0.044"/><stop offset="0.9603" stop-color="#000" stop-opacity="0.04"/><stop offset="0.9629" stop-color="#000" stop-opacity="0.036"/><stop offset="0.9656" stop-color="#000" stop-opacity="0.032"/><stop offset="0.9682" stop-color="#000" stop-opacity="0.028"/><stop offset="0.9709" stop-color="#000" stop-opacity="0.024"/><stop offset="0.9735" stop-color="#000" stop-opacity="0.021"/><stop offset="0.9762" stop-color="#000" stop-opacity="0.018"/><stop offset="0.9788" stop-color="#000" stop-opacity="0.015"/><stop offset="0.9815" stop-color="#000" stop-opacity="0.012"/><stop offset="0.9841" stop-color="#000" stop-opacity="0.009"/><stop offset="0.9868" stop-color="#000" stop-opacity="0.007"/><stop offset="0.9894" stop-color="#000" stop-opacity="0.004"/><stop offset="0.9921" stop-color="#000" stop-opacity="0.002"/><stop offset="0.9947" stop-color="#000" stop-opacity="0"/></radialGradient><radialGradient id="gUa" gradientUnits="userSpaceOnUse" cx="0" cy="0" r="1.1831" gradientTransform="translate(350.0 377.3) scale(284.0 207.2)"><stop offset="0.7533" stop-color="#fff" stop-opacity="0"/><stop offset="0.756" stop-color="#fff" stop-opacity="0.004"/><stop offset="0.7589" stop-color="#fff" stop-opacity="0.008"/><stop offset="0.7619" stop-color="#fff" stop-opacity="0.012"/><stop offset="0.7649" stop-color="#fff" stop-opacity="0.017"/><stop offset="0.7679" stop-color="#fff" stop-opacity="0.021"/><stop offset="0.7708" stop-color="#fff" stop-opacity="0.026"/><stop offset="0.7738" stop-color="#fff" stop-opacity="0.03"/><stop offset="0.7768" stop-color="#fff" stop-opacity="0.036"/><stop offset="0.7798" stop-color="#fff" stop-opacity="0.042"/><stop offset="0.7827" stop-color="#fff" stop-opacity="0.049"/><stop offset="0.7857" stop-color="#fff" stop-opacity="0.055"/><stop offset="0.7887" stop-color="#fff" stop-opacity="0.059"/><stop offset="0.7917" stop-color="#fff" stop-opacity="0.061"/><stop offset="0.7946" stop-color="#fff" stop-opacity="0.058"/><stop offset="0.7976" stop-color="#fff" stop-opacity="0.052"/><stop offset="0.8006" stop-color="#fff" stop-opacity="0.043"/><stop offset="0.8012" stop-color="#fff" stop-opacity="0.04"/><stop offset="0.8036" stop-color="#fff" stop-opacity="0.028"/><stop offset="0.8065" stop-color="#fff" stop-opacity="0.003"/><stop offset="0.8069" stop-color="#fff" stop-opacity="0"/><stop offset="0.8069" stop-color="#000" stop-opacity="0"/><stop offset="0.8095" stop-color="#000" stop-opacity="0.036"/><stop offset="0.8125" stop-color="#000" stop-opacity="0.092"/><stop offset="0.8155" stop-color="#000" stop-opacity="0.148"/><stop offset="0.8185" stop-color="#000" stop-opacity="0.202"/><stop offset="0.8214" stop-color="#000" stop-opacity="0.254"/><stop offset="0.8238" stop-color="#000" stop-opacity="0.287"/><stop offset="0.8244" stop-color="#000" stop-opacity="0.293"/><stop offset="0.8274" stop-color="#000" stop-opacity="0.326"/><stop offset="0.8302" stop-color="#000" stop-opacity="0.341"/><stop offset="0.8304" stop-color="#000" stop-opacity="0.341"/><stop offset="0.8333" stop-color="#000" stop-opacity="0.317"/><stop offset="0.8363" stop-color="#000" stop-opacity="0.267"/><stop offset="0.8374" stop-color="#000" stop-opacity="0.247"/><stop offset="0.8393" stop-color="#000" stop-opacity="0.202"/><stop offset="0.8423" stop-color="#000" stop-opacity="0.104"/><stop offset="0.8452" stop-color="#000" stop-opacity="0"/><stop offset="0.8452" stop-color="#fff" stop-opacity="0"/><stop offset="0.8482" stop-color="#fff" stop-opacity="0.109"/><stop offset="0.8512" stop-color="#fff" stop-opacity="0.217"/><stop offset="0.8524" stop-color="#fff" stop-opacity="0.253"/><stop offset="0.8542" stop-color="#fff" stop-opacity="0.302"/><stop offset="0.8571" stop-color="#fff" stop-opacity="0.375"/><stop offset="0.8595" stop-color="#fff" stop-opacity="0.415"/><stop offset="0.8601" stop-color="#fff" stop-opacity="0.422"/><stop offset="0.8631" stop-color="#fff" stop-opacity="0.452"/><stop offset="0.8643" stop-color="#fff" stop-opacity="0.455"/><stop offset="0.8661" stop-color="#fff" stop-opacity="0.45"/><stop offset="0.869" stop-color="#fff" stop-opacity="0.423"/><stop offset="0.8714" stop-color="#fff" stop-opacity="0.395"/><stop offset="0.872" stop-color="#fff" stop-opacity="0.387"/><stop offset="0.875" stop-color="#fff" stop-opacity="0.326"/><stop offset="0.878" stop-color="#fff" stop-opacity="0.248"/><stop offset="0.8798" stop-color="#fff" stop-opacity="0.202"/><stop offset="0.881" stop-color="#fff" stop-opacity="0.172"/><stop offset="0.8839" stop-color="#fff" stop-opacity="0.089"/><stop offset="0.8869" stop-color="#fff" stop-opacity="0.017"/><stop offset="0.8879" stop-color="#fff" stop-opacity="0"/><stop offset="0.8879" stop-color="#000" stop-opacity="0"/><stop offset="0.8899" stop-color="#000" stop-opacity="0.028"/><stop offset="0.8929" stop-color="#000" stop-opacity="0.06"/><stop offset="0.894" stop-color="#000" stop-opacity="0.069"/><stop offset="0.8958" stop-color="#000" stop-opacity="0.082"/><stop offset="0.8988" stop-color="#000" stop-opacity="0.101"/><stop offset="0.9018" stop-color="#000" stop-opacity="0.113"/><stop offset="0.9029" stop-color="#000" stop-opacity="0.114"/><stop offset="0.9048" stop-color="#000" stop-opacity="0.112"/><stop offset="0.9077" stop-color="#000" stop-opacity="0.107"/><stop offset="0.9107" stop-color="#000" stop-opacity="0.099"/><stop offset="0.9137" stop-color="#000" stop-opacity="0.09"/><stop offset="0.9143" stop-color="#000" stop-opacity="0.089"/><stop offset="0.9167" stop-color="#000" stop-opacity="0.083"/><stop offset="0.9196" stop-color="#000" stop-opacity="0.075"/><stop offset="0.9226" stop-color="#000" stop-opacity="0.066"/><stop offset="0.9256" stop-color="#000" stop-opacity="0.057"/><stop offset="0.9286" stop-color="#000" stop-opacity="0.05"/><stop offset="0.931" stop-color="#000" stop-opacity="0.044"/><stop offset="0.9315" stop-color="#000" stop-opacity="0.043"/><stop offset="0.9345" stop-color="#000" stop-opacity="0.038"/><stop offset="0.9375" stop-color="#000" stop-opacity="0.033"/><stop offset="0.9405" stop-color="#000" stop-opacity="0.028"/><stop offset="0.9435" stop-color="#000" stop-opacity="0.023"/><stop offset="0.9464" stop-color="#000" stop-opacity="0.019"/><stop offset="0.9494" stop-color="#000" stop-opacity="0.016"/><stop offset="0.95" stop-color="#000" stop-opacity="0.015"/><stop offset="0.9524" stop-color="#000" stop-opacity="0.012"/><stop offset="0.9554" stop-color="#000" stop-opacity="0.009"/><stop offset="0.9583" stop-color="#000" stop-opacity="0.005"/><stop offset="0.9613" stop-color="#000" stop-opacity="0.003"/><stop offset="0.9643" stop-color="#000" stop-opacity="0"/></radialGradient>
<radialGradient id="gDb" gradientUnits="userSpaceOnUse" cx="350" cy="298.6" r="224.2"><stop offset="0.7893" stop-color="#000" stop-opacity="0"/><stop offset="0.7895" stop-color="#000" stop-opacity="0"/><stop offset="0.7939" stop-color="#000" stop-opacity="0.002"/><stop offset="0.7984" stop-color="#000" stop-opacity="0.007"/><stop offset="0.8029" stop-color="#000" stop-opacity="0.014"/><stop offset="0.8073" stop-color="#000" stop-opacity="0.023"/><stop offset="0.8103" stop-color="#000" stop-opacity="0.03"/><stop offset="0.8118" stop-color="#000" stop-opacity="0.034"/><stop offset="0.8162" stop-color="#000" stop-opacity="0.052"/><stop offset="0.8207" stop-color="#000" stop-opacity="0.076"/><stop offset="0.8244" stop-color="#000" stop-opacity="0.099"/><stop offset="0.8252" stop-color="#000" stop-opacity="0.104"/><stop offset="0.8296" stop-color="#000" stop-opacity="0.151"/><stop offset="0.8341" stop-color="#000" stop-opacity="0.192"/><stop offset="0.8361" stop-color="#000" stop-opacity="0.198"/><stop offset="0.8385" stop-color="#000" stop-opacity="0.189"/><stop offset="0.843" stop-color="#000" stop-opacity="0.142"/><stop offset="0.844" stop-color="#000" stop-opacity="0.128"/><stop offset="0.8475" stop-color="#000" stop-opacity="0.066"/><stop offset="0.8497" stop-color="#000" stop-opacity="0"/><stop offset="0.8497" stop-color="#fff" stop-opacity="0"/><stop offset="0.8519" stop-color="#fff" stop-opacity="0.157"/><stop offset="0.856" stop-color="#fff" stop-opacity="0.557"/><stop offset="0.8564" stop-color="#fff" stop-opacity="0.586"/><stop offset="0.8608" stop-color="#fff" stop-opacity="0.898"/><stop offset="0.8623" stop-color="#fff" stop-opacity="0.964"/><stop offset="0.8653" stop-color="#fff" stop-opacity="1"/><stop offset="0.8686" stop-color="#fff" stop-opacity="1"/><stop offset="0.8698" stop-color="#fff" stop-opacity="1"/><stop offset="0.8742" stop-color="#fff" stop-opacity="0.99"/><stop offset="0.875" stop-color="#fff" stop-opacity="0.964"/><stop offset="0.8787" stop-color="#fff" stop-opacity="0.752"/><stop offset="0.8813" stop-color="#fff" stop-opacity="0.557"/><stop offset="0.8831" stop-color="#fff" stop-opacity="0.403"/><stop offset="0.8876" stop-color="#fff" stop-opacity="0"/><stop offset="0.8876" stop-color="#000" stop-opacity="0"/><stop offset="0.8921" stop-color="#000" stop-opacity="0.343"/><stop offset="0.895" stop-color="#000" stop-opacity="0.543"/><stop offset="0.8965" stop-color="#000" stop-opacity="0.638"/><stop offset="0.901" stop-color="#000" stop-opacity="0.889"/><stop offset="0.9024" stop-color="#000" stop-opacity="0.941"/><stop offset="0.9054" stop-color="#000" stop-opacity="1"/><stop offset="0.9098" stop-color="#000" stop-opacity="1"/><stop offset="0.9099" stop-color="#000" stop-opacity="1"/><stop offset="0.9144" stop-color="#000" stop-opacity="1"/><stop offset="0.9173" stop-color="#000" stop-opacity="0.941"/><stop offset="0.9188" stop-color="#000" stop-opacity="0.884"/><stop offset="0.9233" stop-color="#000" stop-opacity="0.631"/><stop offset="0.9247" stop-color="#000" stop-opacity="0.544"/><stop offset="0.9277" stop-color="#000" stop-opacity="0.301"/><stop offset="0.9321" stop-color="#000" stop-opacity="0"/><stop offset="0.9321" stop-color="#fff" stop-opacity="0"/><stop offset="0.9322" stop-color="#fff" stop-opacity="0.004"/><stop offset="0.9367" stop-color="#fff" stop-opacity="0.11"/><stop offset="0.9372" stop-color="#fff" stop-opacity="0.121"/><stop offset="0.9411" stop-color="#fff" stop-opacity="0.205"/><stop offset="0.9456" stop-color="#fff" stop-opacity="0.277"/><stop offset="0.9471" stop-color="#fff" stop-opacity="0.283"/><stop offset="0.95" stop-color="#fff" stop-opacity="0.268"/><stop offset="0.9545" stop-color="#fff" stop-opacity="0.213"/><stop offset="0.9579" stop-color="#fff" stop-opacity="0.172"/><stop offset="0.959" stop-color="#fff" stop-opacity="0.161"/><stop offset="0.9634" stop-color="#fff" stop-opacity="0.119"/><stop offset="0.9679" stop-color="#fff" stop-opacity="0.082"/><stop offset="0.9696" stop-color="#fff" stop-opacity="0.071"/><stop offset="0.9723" stop-color="#fff" stop-opacity="0.055"/><stop offset="0.9768" stop-color="#fff" stop-opacity="0.032"/><stop offset="0.9813" stop-color="#fff" stop-opacity="0.013"/><stop offset="0.9857" stop-color="#fff" stop-opacity="0"/><stop offset="0.986" stop-color="#fff" stop-opacity="0"/></radialGradient><radialGradient id="gDib" gradientUnits="userSpaceOnUse" cx="350" cy="298.6" r="224.2"><stop offset="0.7893" stop-color="#fff" stop-opacity="0"/><stop offset="0.7895" stop-color="#fff" stop-opacity="0"/><stop offset="0.7939" stop-color="#fff" stop-opacity="0.002"/><stop offset="0.7984" stop-color="#fff" stop-opacity="0.007"/><stop offset="0.8029" stop-color="#fff" stop-opacity="0.014"/><stop offset="0.8073" stop-color="#fff" stop-opacity="0.024"/><stop offset="0.8103" stop-color="#fff" stop-opacity="0.03"/><stop offset="0.8118" stop-color="#fff" stop-opacity="0.034"/><stop offset="0.8162" stop-color="#fff" stop-opacity="0.053"/><stop offset="0.8207" stop-color="#fff" stop-opacity="0.078"/><stop offset="0.8244" stop-color="#fff" stop-opacity="0.101"/><stop offset="0.8252" stop-color="#fff" stop-opacity="0.107"/><stop offset="0.8296" stop-color="#fff" stop-opacity="0.154"/><stop offset="0.8341" stop-color="#fff" stop-opacity="0.196"/><stop offset="0.8361" stop-color="#fff" stop-opacity="0.202"/><stop offset="0.8385" stop-color="#fff" stop-opacity="0.193"/><stop offset="0.843" stop-color="#fff" stop-opacity="0.145"/><stop offset="0.844" stop-color="#fff" stop-opacity="0.132"/><stop offset="0.8475" stop-color="#fff" stop-opacity="0.068"/><stop offset="0.8497" stop-color="#fff" stop-opacity="0"/><stop offset="0.8497" stop-color="#000" stop-opacity="0"/><stop offset="0.8519" stop-color="#000" stop-opacity="0.154"/><stop offset="0.856" stop-color="#000" stop-opacity="0.543"/><stop offset="0.8564" stop-color="#000" stop-opacity="0.572"/><stop offset="0.8608" stop-color="#000" stop-opacity="0.877"/><stop offset="0.8623" stop-color="#000" stop-opacity="0.941"/><stop offset="0.8653" stop-color="#000" stop-opacity="1"/><stop offset="0.8686" stop-color="#000" stop-opacity="1"/><stop offset="0.8698" stop-color="#000" stop-opacity="1"/><stop offset="0.8742" stop-color="#000" stop-opacity="0.966"/><stop offset="0.875" stop-color="#000" stop-opacity="0.941"/><stop offset="0.8787" stop-color="#000" stop-opacity="0.734"/><stop offset="0.8813" stop-color="#000" stop-opacity="0.543"/><stop offset="0.8831" stop-color="#000" stop-opacity="0.393"/><stop offset="0.8876" stop-color="#000" stop-opacity="0"/><stop offset="0.8876" stop-color="#fff" stop-opacity="0"/><stop offset="0.8921" stop-color="#fff" stop-opacity="0.352"/><stop offset="0.895" stop-color="#fff" stop-opacity="0.557"/><stop offset="0.8965" stop-color="#fff" stop-opacity="0.654"/><stop offset="0.901" stop-color="#fff" stop-opacity="0.91"/><stop offset="0.9024" stop-color="#fff" stop-opacity="0.964"/><stop offset="0.9054" stop-color="#fff" stop-opacity="1"/><stop offset="0.9098" stop-color="#fff" stop-opacity="1"/><stop offset="0.9099" stop-color="#fff" stop-opacity="1"/><stop offset="0.9144" stop-color="#fff" stop-opacity="1"/><stop offset="0.9173" stop-color="#fff" stop-opacity="0.964"/><stop offset="0.9188" stop-color="#fff" stop-opacity="0.905"/><stop offset="0.9233" stop-color="#fff" stop-opacity="0.647"/><stop offset="0.9247" stop-color="#fff" stop-opacity="0.557"/><stop offset="0.9277" stop-color="#fff" stop-opacity="0.309"/><stop offset="0.9321" stop-color="#fff" stop-opacity="0"/><stop offset="0.9321" stop-color="#000" stop-opacity="0"/><stop offset="0.9322" stop-color="#000" stop-opacity="0.004"/><stop offset="0.9367" stop-color="#000" stop-opacity="0.108"/><stop offset="0.9372" stop-color="#000" stop-opacity="0.119"/><stop offset="0.9411" stop-color="#000" stop-opacity="0.2"/><stop offset="0.9456" stop-color="#000" stop-opacity="0.271"/><stop offset="0.9471" stop-color="#000" stop-opacity="0.277"/><stop offset="0.95" stop-color="#000" stop-opacity="0.262"/><stop offset="0.9545" stop-color="#000" stop-opacity="0.208"/><stop offset="0.9579" stop-color="#000" stop-opacity="0.168"/><stop offset="0.959" stop-color="#000" stop-opacity="0.158"/><stop offset="0.9634" stop-color="#000" stop-opacity="0.116"/><stop offset="0.9679" stop-color="#000" stop-opacity="0.08"/><stop offset="0.9696" stop-color="#000" stop-opacity="0.069"/><stop offset="0.9723" stop-color="#000" stop-opacity="0.054"/><stop offset="0.9768" stop-color="#000" stop-opacity="0.031"/><stop offset="0.9813" stop-color="#000" stop-opacity="0.012"/><stop offset="0.9857" stop-color="#000" stop-opacity="0"/><stop offset="0.986" stop-color="#000" stop-opacity="0"/></radialGradient><radialGradient id="gRob" gradientUnits="userSpaceOnUse" cx="350" cy="439" r="234.6"><stop offset="0.8883" stop-color="#fff" stop-opacity="0"/><stop offset="0.8892" stop-color="#fff" stop-opacity="0.018"/><stop offset="0.8934" stop-color="#fff" stop-opacity="0.098"/><stop offset="0.8943" stop-color="#fff" stop-opacity="0.111"/><stop offset="0.8977" stop-color="#fff" stop-opacity="0.165"/><stop offset="0.902" stop-color="#fff" stop-opacity="0.211"/><stop offset="0.9028" stop-color="#fff" stop-opacity="0.213"/><stop offset="0.9062" stop-color="#fff" stop-opacity="0.2"/><stop offset="0.9105" stop-color="#fff" stop-opacity="0.167"/><stop offset="0.9126" stop-color="#fff" stop-opacity="0.152"/><stop offset="0.9147" stop-color="#fff" stop-opacity="0.138"/><stop offset="0.919" stop-color="#fff" stop-opacity="0.108"/><stop offset="0.9233" stop-color="#fff" stop-opacity="0.081"/><stop offset="0.9254" stop-color="#fff" stop-opacity="0.071"/><stop offset="0.9275" stop-color="#fff" stop-opacity="0.062"/><stop offset="0.9318" stop-color="#fff" stop-opacity="0.047"/><stop offset="0.9361" stop-color="#fff" stop-opacity="0.035"/><stop offset="0.9403" stop-color="#fff" stop-opacity="0.025"/><stop offset="0.9446" stop-color="#fff" stop-opacity="0.018"/><stop offset="0.9488" stop-color="#fff" stop-opacity="0.011"/><stop offset="0.9531" stop-color="#fff" stop-opacity="0.006"/><stop offset="0.9574" stop-color="#fff" stop-opacity="0.002"/><stop offset="0.9616" stop-color="#fff" stop-opacity="0"/></radialGradient><radialGradient id="gRbb" gradientUnits="userSpaceOnUse" cx="350" cy="439" r="234.6"><stop offset="0.8593" stop-color="#000" stop-opacity="0"/><stop offset="0.8636" stop-color="#000" stop-opacity="0.32"/><stop offset="0.8642" stop-color="#000" stop-opacity="0.356"/><stop offset="0.8679" stop-color="#000" stop-opacity="0.573"/><stop offset="0.869" stop-color="#000" stop-opacity="0.616"/><stop offset="0.8721" stop-color="#000" stop-opacity="0.695"/><stop offset="0.8738" stop-color="#000" stop-opacity="0.711"/><stop offset="0.8764" stop-color="#000" stop-opacity="0.678"/><stop offset="0.8787" stop-color="#000" stop-opacity="0.616"/><stop offset="0.8806" stop-color="#000" stop-opacity="0.53"/><stop offset="0.8835" stop-color="#000" stop-opacity="0.356"/><stop offset="0.8849" stop-color="#000" stop-opacity="0.262"/><stop offset="0.8883" stop-color="#000" stop-opacity="0"/></radialGradient><radialGradient id="gRrb" gradientUnits="userSpaceOnUse" cx="350" cy="439" r="234.6"><stop offset="0.8303" stop-color="#fff" stop-opacity="0"/><stop offset="0.8338" stop-color="#fff" stop-opacity="0.268"/><stop offset="0.8352" stop-color="#fff" stop-opacity="0.364"/><stop offset="0.838" stop-color="#fff" stop-opacity="0.543"/><stop offset="0.84" stop-color="#fff" stop-opacity="0.631"/><stop offset="0.8423" stop-color="#fff" stop-opacity="0.694"/><stop offset="0.8448" stop-color="#fff" stop-opacity="0.729"/><stop offset="0.8465" stop-color="#fff" stop-opacity="0.712"/><stop offset="0.8497" stop-color="#fff" stop-opacity="0.631"/><stop offset="0.8508" stop-color="#fff" stop-opacity="0.587"/><stop offset="0.8545" stop-color="#fff" stop-opacity="0.364"/><stop offset="0.8551" stop-color="#fff" stop-opacity="0.327"/><stop offset="0.8593" stop-color="#fff" stop-opacity="0"/></radialGradient><radialGradient id="gRib" gradientUnits="userSpaceOnUse" cx="350" cy="439" r="234.6"><stop offset="0.7826" stop-color="#000" stop-opacity="0"/><stop offset="0.7869" stop-color="#000" stop-opacity="0.005"/><stop offset="0.7911" stop-color="#000" stop-opacity="0.018"/><stop offset="0.7954" stop-color="#000" stop-opacity="0.038"/><stop offset="0.7975" stop-color="#000" stop-opacity="0.049"/><stop offset="0.7997" stop-color="#000" stop-opacity="0.068"/><stop offset="0.8039" stop-color="#000" stop-opacity="0.133"/><stop offset="0.8082" stop-color="#000" stop-opacity="0.217"/><stop offset="0.8124" stop-color="#000" stop-opacity="0.358"/><stop offset="0.8167" stop-color="#000" stop-opacity="0.455"/><stop offset="0.821" stop-color="#000" stop-opacity="0.394"/><stop offset="0.8244" stop-color="#000" stop-opacity="0.296"/><stop offset="0.8252" stop-color="#000" stop-opacity="0.268"/><stop offset="0.8295" stop-color="#000" stop-opacity="0.052"/><stop offset="0.8303" stop-color="#000" stop-opacity="0"/></radialGradient><radialGradient id="gRtb" gradientUnits="userSpaceOnUse" cx="350" cy="439" r="234.6"><stop offset="0.772" stop-color="#000" stop-opacity="0"/><stop offset="0.7741" stop-color="#000" stop-opacity="0.002"/><stop offset="0.7783" stop-color="#000" stop-opacity="0.008"/><stop offset="0.7826" stop-color="#000" stop-opacity="0.014"/><stop offset="0.7869" stop-color="#000" stop-opacity="0.021"/><stop offset="0.7911" stop-color="#000" stop-opacity="0.03"/><stop offset="0.7954" stop-color="#000" stop-opacity="0.04"/><stop offset="0.7997" stop-color="#000" stop-opacity="0.052"/><stop offset="0.8039" stop-color="#000" stop-opacity="0.064"/><stop offset="0.8061" stop-color="#000" stop-opacity="0.069"/><stop offset="0.8082" stop-color="#000" stop-opacity="0.074"/><stop offset="0.8124" stop-color="#000" stop-opacity="0.082"/><stop offset="0.8146" stop-color="#000" stop-opacity="0.084"/><stop offset="0.8167" stop-color="#000" stop-opacity="0.08"/><stop offset="0.821" stop-color="#000" stop-opacity="0.055"/><stop offset="0.8218" stop-color="#000" stop-opacity="0.049"/><stop offset="0.8252" stop-color="#000" stop-opacity="0.025"/><stop offset="0.8274" stop-color="#000" stop-opacity="0"/><stop offset="0.8274" stop-color="#fff" stop-opacity="0"/><stop offset="0.8295" stop-color="#fff" stop-opacity="0.068"/><stop offset="0.8327" stop-color="#fff" stop-opacity="0.207"/><stop offset="0.8338" stop-color="#fff" stop-opacity="0.243"/><stop offset="0.838" stop-color="#fff" stop-opacity="0.359"/><stop offset="0.8423" stop-color="#fff" stop-opacity="0.412"/><stop offset="0.8434" stop-color="#fff" stop-opacity="0.415"/><stop offset="0.8465" stop-color="#fff" stop-opacity="0.391"/><stop offset="0.8487" stop-color="#fff" stop-opacity="0.359"/><stop offset="0.8508" stop-color="#fff" stop-opacity="0.311"/><stop offset="0.854" stop-color="#fff" stop-opacity="0.207"/><stop offset="0.8551" stop-color="#fff" stop-opacity="0.169"/><stop offset="0.8593" stop-color="#fff" stop-opacity="0"/><stop offset="0.8593" stop-color="#000" stop-opacity="0"/><stop offset="0.8636" stop-color="#000" stop-opacity="0.135"/><stop offset="0.8659" stop-color="#000" stop-opacity="0.198"/><stop offset="0.8679" stop-color="#000" stop-opacity="0.249"/><stop offset="0.8721" stop-color="#000" stop-opacity="0.339"/><stop offset="0.8724" stop-color="#000" stop-opacity="0.342"/><stop offset="0.8764" stop-color="#000" stop-opacity="0.385"/><stop offset="0.8789" stop-color="#000" stop-opacity="0.395"/><stop offset="0.8806" stop-color="#000" stop-opacity="0.39"/><stop offset="0.8849" stop-color="#000" stop-opacity="0.349"/><stop offset="0.8855" stop-color="#000" stop-opacity="0.342"/><stop offset="0.8892" stop-color="#000" stop-opacity="0.271"/><stop offset="0.892" stop-color="#000" stop-opacity="0.198"/><stop offset="0.8934" stop-color="#000" stop-opacity="0.155"/><stop offset="0.8977" stop-color="#000" stop-opacity="0.017"/><stop offset="0.8986" stop-color="#000" stop-opacity="0"/><stop offset="0.8986" stop-color="#fff" stop-opacity="0"/><stop offset="0.902" stop-color="#fff" stop-opacity="0.042"/><stop offset="0.9054" stop-color="#fff" stop-opacity="0.071"/><stop offset="0.9062" stop-color="#fff" stop-opacity="0.077"/><stop offset="0.9105" stop-color="#fff" stop-opacity="0.109"/><stop offset="0.9143" stop-color="#fff" stop-opacity="0.121"/><stop offset="0.9147" stop-color="#fff" stop-opacity="0.121"/><stop offset="0.919" stop-color="#fff" stop-opacity="0.118"/><stop offset="0.9233" stop-color="#fff" stop-opacity="0.11"/><stop offset="0.9275" stop-color="#fff" stop-opacity="0.101"/><stop offset="0.9318" stop-color="#fff" stop-opacity="0.092"/><stop offset="0.9361" stop-color="#fff" stop-opacity="0.081"/><stop offset="0.9403" stop-color="#fff" stop-opacity="0.07"/><stop offset="0.9446" stop-color="#fff" stop-opacity="0.061"/><stop offset="0.9488" stop-color="#fff" stop-opacity="0.054"/><stop offset="0.9531" stop-color="#fff" stop-opacity="0.047"/><stop offset="0.9574" stop-color="#fff" stop-opacity="0.041"/><stop offset="0.9616" stop-color="#fff" stop-opacity="0.036"/><stop offset="0.9659" stop-color="#fff" stop-opacity="0.03"/><stop offset="0.9702" stop-color="#fff" stop-opacity="0.025"/><stop offset="0.9744" stop-color="#fff" stop-opacity="0.02"/><stop offset="0.9787" stop-color="#fff" stop-opacity="0.014"/><stop offset="0.9829" stop-color="#fff" stop-opacity="0.009"/><stop offset="0.9872" stop-color="#fff" stop-opacity="0.005"/><stop offset="0.9915" stop-color="#fff" stop-opacity="0"/></radialGradient><radialGradient id="gTb" gradientUnits="userSpaceOnUse" cx="0" cy="0" r="1.1724" gradientTransform="translate(350.0 301.8) scale(298.0 325.7)"><stop offset="0.7438" stop-color="#fff" stop-opacity="0"/><stop offset="0.7456" stop-color="#fff" stop-opacity="0.002"/><stop offset="0.7482" stop-color="#fff" stop-opacity="0.005"/><stop offset="0.7508" stop-color="#fff" stop-opacity="0.008"/><stop offset="0.7534" stop-color="#fff" stop-opacity="0.012"/><stop offset="0.756" stop-color="#fff" stop-opacity="0.015"/><stop offset="0.7587" stop-color="#fff" stop-opacity="0.018"/><stop offset="0.7613" stop-color="#fff" stop-opacity="0.021"/><stop offset="0.7639" stop-color="#fff" stop-opacity="0.025"/><stop offset="0.7665" stop-color="#fff" stop-opacity="0.028"/><stop offset="0.7681" stop-color="#fff" stop-opacity="0.03"/><stop offset="0.7691" stop-color="#fff" stop-opacity="0.032"/><stop offset="0.7717" stop-color="#fff" stop-opacity="0.036"/><stop offset="0.7744" stop-color="#fff" stop-opacity="0.041"/><stop offset="0.777" stop-color="#fff" stop-opacity="0.046"/><stop offset="0.7796" stop-color="#fff" stop-opacity="0.051"/><stop offset="0.7822" stop-color="#fff" stop-opacity="0.055"/><stop offset="0.7848" stop-color="#fff" stop-opacity="0.058"/><stop offset="0.7875" stop-color="#fff" stop-opacity="0.06"/><stop offset="0.7893" stop-color="#fff" stop-opacity="0.061"/><stop offset="0.7901" stop-color="#fff" stop-opacity="0.061"/><stop offset="0.7927" stop-color="#fff" stop-opacity="0.058"/><stop offset="0.7953" stop-color="#fff" stop-opacity="0.054"/><stop offset="0.7979" stop-color="#fff" stop-opacity="0.048"/><stop offset="0.8006" stop-color="#fff" stop-opacity="0.041"/><stop offset="0.8006" stop-color="#fff" stop-opacity="0.04"/><stop offset="0.8032" stop-color="#fff" stop-opacity="0.03"/><stop offset="0.8058" stop-color="#fff" stop-opacity="0.013"/><stop offset="0.8074" stop-color="#fff" stop-opacity="0"/><stop offset="0.8074" stop-color="#000" stop-opacity="0"/><stop offset="0.8084" stop-color="#000" stop-opacity="0.009"/><stop offset="0.811" stop-color="#000" stop-opacity="0.043"/><stop offset="0.8136" stop-color="#000" stop-opacity="0.085"/><stop offset="0.8163" stop-color="#000" stop-opacity="0.129"/><stop offset="0.8176" stop-color="#000" stop-opacity="0.148"/><stop offset="0.8189" stop-color="#000" stop-opacity="0.168"/><stop offset="0.8215" stop-color="#000" stop-opacity="0.208"/><stop offset="0.8241" stop-color="#000" stop-opacity="0.247"/><stop offset="0.8267" stop-color="#000" stop-opacity="0.279"/><stop offset="0.8275" stop-color="#000" stop-opacity="0.287"/><stop offset="0.8294" stop-color="#000" stop-opacity="0.305"/><stop offset="0.832" stop-color="#000" stop-opacity="0.328"/><stop offset="0.8346" stop-color="#000" stop-opacity="0.341"/><stop offset="0.8351" stop-color="#000" stop-opacity="0.341"/><stop offset="0.8372" stop-color="#000" stop-opacity="0.333"/><stop offset="0.8398" stop-color="#000" stop-opacity="0.304"/><stop offset="0.8425" stop-color="#000" stop-opacity="0.265"/><stop offset="0.8436" stop-color="#000" stop-opacity="0.247"/><stop offset="0.8451" stop-color="#000" stop-opacity="0.22"/><stop offset="0.8477" stop-color="#000" stop-opacity="0.154"/><stop offset="0.8503" stop-color="#000" stop-opacity="0.077"/><stop offset="0.8529" stop-color="#000" stop-opacity="0"/><stop offset="0.8529" stop-color="#fff" stop-opacity="0"/><stop offset="0.8555" stop-color="#fff" stop-opacity="0.08"/><stop offset="0.8582" stop-color="#fff" stop-opacity="0.163"/><stop offset="0.8608" stop-color="#fff" stop-opacity="0.238"/><stop offset="0.8614" stop-color="#fff" stop-opacity="0.253"/><stop offset="0.8634" stop-color="#fff" stop-opacity="0.299"/><stop offset="0.866" stop-color="#fff" stop-opacity="0.355"/><stop offset="0.8686" stop-color="#fff" stop-opacity="0.4"/><stop offset="0.8699" stop-color="#fff" stop-opacity="0.415"/><stop offset="0.8713" stop-color="#fff" stop-opacity="0.429"/><stop offset="0.8739" stop-color="#fff" stop-opacity="0.45"/><stop offset="0.8756" stop-color="#fff" stop-opacity="0.455"/><stop offset="0.8765" stop-color="#fff" stop-opacity="0.454"/><stop offset="0.8791" stop-color="#fff" stop-opacity="0.441"/><stop offset="0.8817" stop-color="#fff" stop-opacity="0.418"/><stop offset="0.884" stop-color="#fff" stop-opacity="0.395"/><stop offset="0.8844" stop-color="#fff" stop-opacity="0.391"/><stop offset="0.887" stop-color="#fff" stop-opacity="0.351"/><stop offset="0.8896" stop-color="#fff" stop-opacity="0.298"/><stop offset="0.8922" stop-color="#fff" stop-opacity="0.239"/><stop offset="0.8939" stop-color="#fff" stop-opacity="0.202"/><stop offset="0.8948" stop-color="#fff" stop-opacity="0.184"/><stop offset="0.8974" stop-color="#fff" stop-opacity="0.123"/><stop offset="0.9001" stop-color="#fff" stop-opacity="0.063"/><stop offset="0.9027" stop-color="#fff" stop-opacity="0.013"/><stop offset="0.9036" stop-color="#fff" stop-opacity="0"/><stop offset="0.9036" stop-color="#000" stop-opacity="0"/><stop offset="0.9053" stop-color="#000" stop-opacity="0.021"/><stop offset="0.9079" stop-color="#000" stop-opacity="0.047"/><stop offset="0.9105" stop-color="#000" stop-opacity="0.067"/><stop offset="0.9109" stop-color="#000" stop-opacity="0.069"/><stop offset="0.9132" stop-color="#000" stop-opacity="0.083"/><stop offset="0.9158" stop-color="#000" stop-opacity="0.097"/><stop offset="0.9184" stop-color="#000" stop-opacity="0.109"/><stop offset="0.921" stop-color="#000" stop-opacity="0.114"/><stop offset="0.9214" stop-color="#000" stop-opacity="0.114"/><stop offset="0.9236" stop-color="#000" stop-opacity="0.112"/><stop offset="0.9263" stop-color="#000" stop-opacity="0.109"/><stop offset="0.9289" stop-color="#000" stop-opacity="0.103"/><stop offset="0.9315" stop-color="#000" stop-opacity="0.097"/><stop offset="0.9341" stop-color="#000" stop-opacity="0.091"/><stop offset="0.9349" stop-color="#000" stop-opacity="0.089"/><stop offset="0.9367" stop-color="#000" stop-opacity="0.085"/><stop offset="0.9393" stop-color="#000" stop-opacity="0.079"/><stop offset="0.942" stop-color="#000" stop-opacity="0.073"/><stop offset="0.9446" stop-color="#000" stop-opacity="0.067"/><stop offset="0.9472" stop-color="#000" stop-opacity="0.06"/><stop offset="0.9498" stop-color="#000" stop-opacity="0.054"/><stop offset="0.9524" stop-color="#000" stop-opacity="0.049"/><stop offset="0.9547" stop-color="#000" stop-opacity="0.044"/><stop offset="0.9551" stop-color="#000" stop-opacity="0.044"/><stop offset="0.9577" stop-color="#000" stop-opacity="0.04"/><stop offset="0.9603" stop-color="#000" stop-opacity="0.036"/><stop offset="0.9629" stop-color="#000" stop-opacity="0.032"/><stop offset="0.9655" stop-color="#000" stop-opacity="0.029"/><stop offset="0.9682" stop-color="#000" stop-opacity="0.025"/><stop offset="0.9708" stop-color="#000" stop-opacity="0.022"/><stop offset="0.9734" stop-color="#000" stop-opacity="0.019"/><stop offset="0.976" stop-color="#000" stop-opacity="0.016"/><stop offset="0.9774" stop-color="#000" stop-opacity="0.015"/><stop offset="0.9786" stop-color="#000" stop-opacity="0.014"/><stop offset="0.9812" stop-color="#000" stop-opacity="0.011"/><stop offset="0.9839" stop-color="#000" stop-opacity="0.008"/><stop offset="0.9865" stop-color="#000" stop-opacity="0.006"/><stop offset="0.9891" stop-color="#000" stop-opacity="0.004"/><stop offset="0.9917" stop-color="#000" stop-opacity="0.002"/><stop offset="0.9943" stop-color="#000" stop-opacity="0"/></radialGradient><radialGradient id="gUb" gradientUnits="userSpaceOnUse" cx="0" cy="0" r="1.1977" gradientTransform="translate(350.0 377.3) scale(284.0 207.2)"><stop offset="0.7369" stop-color="#fff" stop-opacity="0"/><stop offset="0.7379" stop-color="#fff" stop-opacity="0.001"/><stop offset="0.7408" stop-color="#fff" stop-opacity="0.005"/><stop offset="0.7438" stop-color="#fff" stop-opacity="0.009"/><stop offset="0.7467" stop-color="#fff" stop-opacity="0.013"/><stop offset="0.7496" stop-color="#fff" stop-opacity="0.017"/><stop offset="0.7526" stop-color="#fff" stop-opacity="0.021"/><stop offset="0.7555" stop-color="#fff" stop-opacity="0.026"/><stop offset="0.7585" stop-color="#fff" stop-opacity="0.03"/><stop offset="0.7587" stop-color="#fff" stop-opacity="0.03"/><stop offset="0.7614" stop-color="#fff" stop-opacity="0.035"/><stop offset="0.7643" stop-color="#fff" stop-opacity="0.041"/><stop offset="0.7673" stop-color="#fff" stop-opacity="0.047"/><stop offset="0.7702" stop-color="#fff" stop-opacity="0.053"/><stop offset="0.7732" stop-color="#fff" stop-opacity="0.058"/><stop offset="0.7761" stop-color="#fff" stop-opacity="0.06"/><stop offset="0.7778" stop-color="#fff" stop-opacity="0.061"/><stop offset="0.779" stop-color="#fff" stop-opacity="0.06"/><stop offset="0.782" stop-color="#fff" stop-opacity="0.056"/><stop offset="0.7849" stop-color="#fff" stop-opacity="0.049"/><stop offset="0.7879" stop-color="#fff" stop-opacity="0.041"/><stop offset="0.7879" stop-color="#fff" stop-opacity="0.04"/><stop offset="0.7908" stop-color="#fff" stop-opacity="0.026"/><stop offset="0.7937" stop-color="#fff" stop-opacity="0.002"/><stop offset="0.794" stop-color="#fff" stop-opacity="0"/><stop offset="0.794" stop-color="#000" stop-opacity="0"/><stop offset="0.7967" stop-color="#000" stop-opacity="0.034"/><stop offset="0.7996" stop-color="#000" stop-opacity="0.085"/><stop offset="0.8026" stop-color="#000" stop-opacity="0.139"/><stop offset="0.8032" stop-color="#000" stop-opacity="0.148"/><stop offset="0.8055" stop-color="#000" stop-opacity="0.188"/><stop offset="0.8084" stop-color="#000" stop-opacity="0.237"/><stop offset="0.8114" stop-color="#000" stop-opacity="0.279"/><stop offset="0.812" stop-color="#000" stop-opacity="0.287"/><stop offset="0.8143" stop-color="#000" stop-opacity="0.311"/><stop offset="0.8173" stop-color="#000" stop-opacity="0.336"/><stop offset="0.8189" stop-color="#000" stop-opacity="0.341"/><stop offset="0.8202" stop-color="#000" stop-opacity="0.337"/><stop offset="0.8231" stop-color="#000" stop-opacity="0.304"/><stop offset="0.8261" stop-color="#000" stop-opacity="0.255"/><stop offset="0.8265" stop-color="#000" stop-opacity="0.247"/><stop offset="0.829" stop-color="#000" stop-opacity="0.189"/><stop offset="0.832" stop-color="#000" stop-opacity="0.097"/><stop offset="0.8349" stop-color="#000" stop-opacity="0"/><stop offset="0.8349" stop-color="#fff" stop-opacity="0"/><stop offset="0.8378" stop-color="#fff" stop-opacity="0.101"/><stop offset="0.8408" stop-color="#fff" stop-opacity="0.202"/><stop offset="0.8425" stop-color="#fff" stop-opacity="0.253"/><stop offset="0.8437" stop-color="#fff" stop-opacity="0.284"/><stop offset="0.8467" stop-color="#fff" stop-opacity="0.355"/><stop offset="0.8496" stop-color="#fff" stop-opacity="0.408"/><stop offset="0.8501" stop-color="#fff" stop-opacity="0.415"/><stop offset="0.8525" stop-color="#fff" stop-opacity="0.441"/><stop offset="0.8552" stop-color="#fff" stop-opacity="0.455"/><stop offset="0.8555" stop-color="#fff" stop-opacity="0.455"/><stop offset="0.8584" stop-color="#fff" stop-opacity="0.441"/><stop offset="0.8614" stop-color="#fff" stop-opacity="0.412"/><stop offset="0.8628" stop-color="#fff" stop-opacity="0.395"/><stop offset="0.8643" stop-color="#fff" stop-opacity="0.374"/><stop offset="0.8672" stop-color="#fff" stop-opacity="0.312"/><stop offset="0.8702" stop-color="#fff" stop-opacity="0.239"/><stop offset="0.8717" stop-color="#fff" stop-opacity="0.202"/><stop offset="0.8731" stop-color="#fff" stop-opacity="0.169"/><stop offset="0.8761" stop-color="#fff" stop-opacity="0.092"/><stop offset="0.879" stop-color="#fff" stop-opacity="0.024"/><stop offset="0.8804" stop-color="#fff" stop-opacity="0"/><stop offset="0.8804" stop-color="#000" stop-opacity="0"/><stop offset="0.8819" stop-color="#000" stop-opacity="0.021"/><stop offset="0.8849" stop-color="#000" stop-opacity="0.053"/><stop offset="0.887" stop-color="#000" stop-opacity="0.069"/><stop offset="0.8878" stop-color="#000" stop-opacity="0.075"/><stop offset="0.8908" stop-color="#000" stop-opacity="0.094"/><stop offset="0.8937" stop-color="#000" stop-opacity="0.109"/><stop offset="0.8964" stop-color="#000" stop-opacity="0.114"/><stop offset="0.8966" stop-color="#000" stop-opacity="0.114"/><stop offset="0.8996" stop-color="#000" stop-opacity="0.111"/><stop offset="0.9025" stop-color="#000" stop-opacity="0.105"/><stop offset="0.9055" stop-color="#000" stop-opacity="0.097"/><stop offset="0.9084" stop-color="#000" stop-opacity="0.089"/><stop offset="0.9086" stop-color="#000" stop-opacity="0.089"/><stop offset="0.9113" stop-color="#000" stop-opacity="0.082"/><stop offset="0.9143" stop-color="#000" stop-opacity="0.075"/><stop offset="0.9172" stop-color="#000" stop-opacity="0.067"/><stop offset="0.9202" stop-color="#000" stop-opacity="0.059"/><stop offset="0.9231" stop-color="#000" stop-opacity="0.051"/><stop offset="0.926" stop-color="#000" stop-opacity="0.045"/><stop offset="0.9263" stop-color="#000" stop-opacity="0.044"/><stop offset="0.929" stop-color="#000" stop-opacity="0.04"/><stop offset="0.9319" stop-color="#000" stop-opacity="0.035"/><stop offset="0.9349" stop-color="#000" stop-opacity="0.03"/><stop offset="0.9378" stop-color="#000" stop-opacity="0.026"/><stop offset="0.9407" stop-color="#000" stop-opacity="0.022"/><stop offset="0.9437" stop-color="#000" stop-opacity="0.018"/><stop offset="0.9466" stop-color="#000" stop-opacity="0.015"/><stop offset="0.9467" stop-color="#000" stop-opacity="0.015"/><stop offset="0.9496" stop-color="#000" stop-opacity="0.012"/><stop offset="0.9525" stop-color="#000" stop-opacity="0.008"/><stop offset="0.9554" stop-color="#000" stop-opacity="0.006"/><stop offset="0.9584" stop-color="#000" stop-opacity="0.003"/><stop offset="0.9613" stop-color="#000" stop-opacity="0"/><stop offset="0.9619" stop-color="#000" stop-opacity="0"/></radialGradient>
<radialGradient id="gDc" gradientUnits="userSpaceOnUse" cx="350" cy="298.6" r="224.2"><stop offset="0.7893" stop-color="#000" stop-opacity="0"/><stop offset="0.7895" stop-color="#000" stop-opacity="0"/><stop offset="0.7939" stop-color="#000" stop-opacity="0.002"/><stop offset="0.7984" stop-color="#000" stop-opacity="0.007"/><stop offset="0.8029" stop-color="#000" stop-opacity="0.014"/><stop offset="0.8073" stop-color="#000" stop-opacity="0.023"/><stop offset="0.8103" stop-color="#000" stop-opacity="0.03"/><stop offset="0.8118" stop-color="#000" stop-opacity="0.034"/><stop offset="0.8162" stop-color="#000" stop-opacity="0.052"/><stop offset="0.8207" stop-color="#000" stop-opacity="0.076"/><stop offset="0.8244" stop-color="#000" stop-opacity="0.099"/><stop offset="0.8252" stop-color="#000" stop-opacity="0.104"/><stop offset="0.8296" stop-color="#000" stop-opacity="0.151"/><stop offset="0.8341" stop-color="#000" stop-opacity="0.192"/><stop offset="0.8361" stop-color="#000" stop-opacity="0.198"/><stop offset="0.8385" stop-color="#000" stop-opacity="0.189"/><stop offset="0.843" stop-color="#000" stop-opacity="0.142"/><stop offset="0.844" stop-color="#000" stop-opacity="0.128"/><stop offset="0.8475" stop-color="#000" stop-opacity="0.066"/><stop offset="0.8497" stop-color="#000" stop-opacity="0"/><stop offset="0.8497" stop-color="#fff" stop-opacity="0"/><stop offset="0.8519" stop-color="#fff" stop-opacity="0.157"/><stop offset="0.856" stop-color="#fff" stop-opacity="0.557"/><stop offset="0.8564" stop-color="#fff" stop-opacity="0.586"/><stop offset="0.8608" stop-color="#fff" stop-opacity="0.898"/><stop offset="0.8623" stop-color="#fff" stop-opacity="0.964"/><stop offset="0.8653" stop-color="#fff" stop-opacity="1"/><stop offset="0.8686" stop-color="#fff" stop-opacity="1"/><stop offset="0.8698" stop-color="#fff" stop-opacity="1"/><stop offset="0.8742" stop-color="#fff" stop-opacity="0.99"/><stop offset="0.875" stop-color="#fff" stop-opacity="0.964"/><stop offset="0.8787" stop-color="#fff" stop-opacity="0.752"/><stop offset="0.8813" stop-color="#fff" stop-opacity="0.557"/><stop offset="0.8831" stop-color="#fff" stop-opacity="0.403"/><stop offset="0.8876" stop-color="#fff" stop-opacity="0"/><stop offset="0.8876" stop-color="#000" stop-opacity="0"/><stop offset="0.8921" stop-color="#000" stop-opacity="0.343"/><stop offset="0.895" stop-color="#000" stop-opacity="0.543"/><stop offset="0.8965" stop-color="#000" stop-opacity="0.638"/><stop offset="0.901" stop-color="#000" stop-opacity="0.889"/><stop offset="0.9024" stop-color="#000" stop-opacity="0.941"/><stop offset="0.9054" stop-color="#000" stop-opacity="1"/><stop offset="0.9098" stop-color="#000" stop-opacity="1"/><stop offset="0.9099" stop-color="#000" stop-opacity="1"/><stop offset="0.9144" stop-color="#000" stop-opacity="1"/><stop offset="0.9173" stop-color="#000" stop-opacity="0.941"/><stop offset="0.9188" stop-color="#000" stop-opacity="0.884"/><stop offset="0.9233" stop-color="#000" stop-opacity="0.631"/><stop offset="0.9247" stop-color="#000" stop-opacity="0.544"/><stop offset="0.9277" stop-color="#000" stop-opacity="0.301"/><stop offset="0.9321" stop-color="#000" stop-opacity="0"/><stop offset="0.9321" stop-color="#fff" stop-opacity="0"/><stop offset="0.9322" stop-color="#fff" stop-opacity="0.004"/><stop offset="0.9367" stop-color="#fff" stop-opacity="0.11"/><stop offset="0.9372" stop-color="#fff" stop-opacity="0.121"/><stop offset="0.9411" stop-color="#fff" stop-opacity="0.205"/><stop offset="0.9456" stop-color="#fff" stop-opacity="0.277"/><stop offset="0.9471" stop-color="#fff" stop-opacity="0.283"/><stop offset="0.95" stop-color="#fff" stop-opacity="0.268"/><stop offset="0.9545" stop-color="#fff" stop-opacity="0.213"/><stop offset="0.9579" stop-color="#fff" stop-opacity="0.172"/><stop offset="0.959" stop-color="#fff" stop-opacity="0.161"/><stop offset="0.9634" stop-color="#fff" stop-opacity="0.119"/><stop offset="0.9679" stop-color="#fff" stop-opacity="0.082"/><stop offset="0.9696" stop-color="#fff" stop-opacity="0.071"/><stop offset="0.9723" stop-color="#fff" stop-opacity="0.055"/><stop offset="0.9768" stop-color="#fff" stop-opacity="0.032"/><stop offset="0.9813" stop-color="#fff" stop-opacity="0.013"/><stop offset="0.9857" stop-color="#fff" stop-opacity="0"/><stop offset="0.986" stop-color="#fff" stop-opacity="0"/></radialGradient><radialGradient id="gDic" gradientUnits="userSpaceOnUse" cx="350" cy="298.6" r="224.2"><stop offset="0.7893" stop-color="#fff" stop-opacity="0"/><stop offset="0.7895" stop-color="#fff" stop-opacity="0"/><stop offset="0.7939" stop-color="#fff" stop-opacity="0.002"/><stop offset="0.7984" stop-color="#fff" stop-opacity="0.007"/><stop offset="0.8029" stop-color="#fff" stop-opacity="0.014"/><stop offset="0.8073" stop-color="#fff" stop-opacity="0.024"/><stop offset="0.8103" stop-color="#fff" stop-opacity="0.03"/><stop offset="0.8118" stop-color="#fff" stop-opacity="0.034"/><stop offset="0.8162" stop-color="#fff" stop-opacity="0.053"/><stop offset="0.8207" stop-color="#fff" stop-opacity="0.078"/><stop offset="0.8244" stop-color="#fff" stop-opacity="0.101"/><stop offset="0.8252" stop-color="#fff" stop-opacity="0.107"/><stop offset="0.8296" stop-color="#fff" stop-opacity="0.154"/><stop offset="0.8341" stop-color="#fff" stop-opacity="0.196"/><stop offset="0.8361" stop-color="#fff" stop-opacity="0.202"/><stop offset="0.8385" stop-color="#fff" stop-opacity="0.193"/><stop offset="0.843" stop-color="#fff" stop-opacity="0.145"/><stop offset="0.844" stop-color="#fff" stop-opacity="0.132"/><stop offset="0.8475" stop-color="#fff" stop-opacity="0.068"/><stop offset="0.8497" stop-color="#fff" stop-opacity="0"/><stop offset="0.8497" stop-color="#000" stop-opacity="0"/><stop offset="0.8519" stop-color="#000" stop-opacity="0.154"/><stop offset="0.856" stop-color="#000" stop-opacity="0.543"/><stop offset="0.8564" stop-color="#000" stop-opacity="0.572"/><stop offset="0.8608" stop-color="#000" stop-opacity="0.877"/><stop offset="0.8623" stop-color="#000" stop-opacity="0.941"/><stop offset="0.8653" stop-color="#000" stop-opacity="1"/><stop offset="0.8686" stop-color="#000" stop-opacity="1"/><stop offset="0.8698" stop-color="#000" stop-opacity="1"/><stop offset="0.8742" stop-color="#000" stop-opacity="0.966"/><stop offset="0.875" stop-color="#000" stop-opacity="0.941"/><stop offset="0.8787" stop-color="#000" stop-opacity="0.734"/><stop offset="0.8813" stop-color="#000" stop-opacity="0.543"/><stop offset="0.8831" stop-color="#000" stop-opacity="0.393"/><stop offset="0.8876" stop-color="#000" stop-opacity="0"/><stop offset="0.8876" stop-color="#fff" stop-opacity="0"/><stop offset="0.8921" stop-color="#fff" stop-opacity="0.352"/><stop offset="0.895" stop-color="#fff" stop-opacity="0.557"/><stop offset="0.8965" stop-color="#fff" stop-opacity="0.654"/><stop offset="0.901" stop-color="#fff" stop-opacity="0.91"/><stop offset="0.9024" stop-color="#fff" stop-opacity="0.964"/><stop offset="0.9054" stop-color="#fff" stop-opacity="1"/><stop offset="0.9098" stop-color="#fff" stop-opacity="1"/><stop offset="0.9099" stop-color="#fff" stop-opacity="1"/><stop offset="0.9144" stop-color="#fff" stop-opacity="1"/><stop offset="0.9173" stop-color="#fff" stop-opacity="0.964"/><stop offset="0.9188" stop-color="#fff" stop-opacity="0.905"/><stop offset="0.9233" stop-color="#fff" stop-opacity="0.647"/><stop offset="0.9247" stop-color="#fff" stop-opacity="0.557"/><stop offset="0.9277" stop-color="#fff" stop-opacity="0.309"/><stop offset="0.9321" stop-color="#fff" stop-opacity="0"/><stop offset="0.9321" stop-color="#000" stop-opacity="0"/><stop offset="0.9322" stop-color="#000" stop-opacity="0.004"/><stop offset="0.9367" stop-color="#000" stop-opacity="0.108"/><stop offset="0.9372" stop-color="#000" stop-opacity="0.119"/><stop offset="0.9411" stop-color="#000" stop-opacity="0.2"/><stop offset="0.9456" stop-color="#000" stop-opacity="0.271"/><stop offset="0.9471" stop-color="#000" stop-opacity="0.277"/><stop offset="0.95" stop-color="#000" stop-opacity="0.262"/><stop offset="0.9545" stop-color="#000" stop-opacity="0.208"/><stop offset="0.9579" stop-color="#000" stop-opacity="0.168"/><stop offset="0.959" stop-color="#000" stop-opacity="0.158"/><stop offset="0.9634" stop-color="#000" stop-opacity="0.116"/><stop offset="0.9679" stop-color="#000" stop-opacity="0.08"/><stop offset="0.9696" stop-color="#000" stop-opacity="0.069"/><stop offset="0.9723" stop-color="#000" stop-opacity="0.054"/><stop offset="0.9768" stop-color="#000" stop-opacity="0.031"/><stop offset="0.9813" stop-color="#000" stop-opacity="0.012"/><stop offset="0.9857" stop-color="#000" stop-opacity="0"/><stop offset="0.986" stop-color="#000" stop-opacity="0"/></radialGradient><radialGradient id="gRoc" gradientUnits="userSpaceOnUse" cx="350" cy="439" r="234.6"><stop offset="0.8883" stop-color="#fff" stop-opacity="0"/><stop offset="0.8892" stop-color="#fff" stop-opacity="0.018"/><stop offset="0.8934" stop-color="#fff" stop-opacity="0.098"/><stop offset="0.8943" stop-color="#fff" stop-opacity="0.111"/><stop offset="0.8977" stop-color="#fff" stop-opacity="0.165"/><stop offset="0.902" stop-color="#fff" stop-opacity="0.211"/><stop offset="0.9028" stop-color="#fff" stop-opacity="0.213"/><stop offset="0.9062" stop-color="#fff" stop-opacity="0.2"/><stop offset="0.9105" stop-color="#fff" stop-opacity="0.167"/><stop offset="0.9126" stop-color="#fff" stop-opacity="0.152"/><stop offset="0.9147" stop-color="#fff" stop-opacity="0.138"/><stop offset="0.919" stop-color="#fff" stop-opacity="0.108"/><stop offset="0.9233" stop-color="#fff" stop-opacity="0.081"/><stop offset="0.9254" stop-color="#fff" stop-opacity="0.071"/><stop offset="0.9275" stop-color="#fff" stop-opacity="0.062"/><stop offset="0.9318" stop-color="#fff" stop-opacity="0.047"/><stop offset="0.9361" stop-color="#fff" stop-opacity="0.035"/><stop offset="0.9403" stop-color="#fff" stop-opacity="0.025"/><stop offset="0.9446" stop-color="#fff" stop-opacity="0.018"/><stop offset="0.9488" stop-color="#fff" stop-opacity="0.011"/><stop offset="0.9531" stop-color="#fff" stop-opacity="0.006"/><stop offset="0.9574" stop-color="#fff" stop-opacity="0.002"/><stop offset="0.9616" stop-color="#fff" stop-opacity="0"/></radialGradient><radialGradient id="gRbc" gradientUnits="userSpaceOnUse" cx="350" cy="439" r="234.6"><stop offset="0.8593" stop-color="#000" stop-opacity="0"/><stop offset="0.8636" stop-color="#000" stop-opacity="0.32"/><stop offset="0.8642" stop-color="#000" stop-opacity="0.356"/><stop offset="0.8679" stop-color="#000" stop-opacity="0.573"/><stop offset="0.869" stop-color="#000" stop-opacity="0.616"/><stop offset="0.8721" stop-color="#000" stop-opacity="0.695"/><stop offset="0.8738" stop-color="#000" stop-opacity="0.711"/><stop offset="0.8764" stop-color="#000" stop-opacity="0.678"/><stop offset="0.8787" stop-color="#000" stop-opacity="0.616"/><stop offset="0.8806" stop-color="#000" stop-opacity="0.53"/><stop offset="0.8835" stop-color="#000" stop-opacity="0.356"/><stop offset="0.8849" stop-color="#000" stop-opacity="0.262"/><stop offset="0.8883" stop-color="#000" stop-opacity="0"/></radialGradient><radialGradient id="gRrc" gradientUnits="userSpaceOnUse" cx="350" cy="439" r="234.6"><stop offset="0.8303" stop-color="#fff" stop-opacity="0"/><stop offset="0.8338" stop-color="#fff" stop-opacity="0.268"/><stop offset="0.8352" stop-color="#fff" stop-opacity="0.364"/><stop offset="0.838" stop-color="#fff" stop-opacity="0.543"/><stop offset="0.84" stop-color="#fff" stop-opacity="0.631"/><stop offset="0.8423" stop-color="#fff" stop-opacity="0.694"/><stop offset="0.8448" stop-color="#fff" stop-opacity="0.729"/><stop offset="0.8465" stop-color="#fff" stop-opacity="0.712"/><stop offset="0.8497" stop-color="#fff" stop-opacity="0.631"/><stop offset="0.8508" stop-color="#fff" stop-opacity="0.587"/><stop offset="0.8545" stop-color="#fff" stop-opacity="0.364"/><stop offset="0.8551" stop-color="#fff" stop-opacity="0.327"/><stop offset="0.8593" stop-color="#fff" stop-opacity="0"/></radialGradient><radialGradient id="gRic" gradientUnits="userSpaceOnUse" cx="350" cy="439" r="234.6"><stop offset="0.7826" stop-color="#000" stop-opacity="0"/><stop offset="0.7869" stop-color="#000" stop-opacity="0.005"/><stop offset="0.7911" stop-color="#000" stop-opacity="0.018"/><stop offset="0.7954" stop-color="#000" stop-opacity="0.038"/><stop offset="0.7975" stop-color="#000" stop-opacity="0.049"/><stop offset="0.7997" stop-color="#000" stop-opacity="0.068"/><stop offset="0.8039" stop-color="#000" stop-opacity="0.133"/><stop offset="0.8082" stop-color="#000" stop-opacity="0.217"/><stop offset="0.8124" stop-color="#000" stop-opacity="0.358"/><stop offset="0.8167" stop-color="#000" stop-opacity="0.455"/><stop offset="0.821" stop-color="#000" stop-opacity="0.394"/><stop offset="0.8244" stop-color="#000" stop-opacity="0.296"/><stop offset="0.8252" stop-color="#000" stop-opacity="0.268"/><stop offset="0.8295" stop-color="#000" stop-opacity="0.052"/><stop offset="0.8303" stop-color="#000" stop-opacity="0"/></radialGradient><radialGradient id="gRtc" gradientUnits="userSpaceOnUse" cx="350" cy="439" r="234.6"><stop offset="0.772" stop-color="#000" stop-opacity="0"/><stop offset="0.7741" stop-color="#000" stop-opacity="0.002"/><stop offset="0.7783" stop-color="#000" stop-opacity="0.008"/><stop offset="0.7826" stop-color="#000" stop-opacity="0.014"/><stop offset="0.7869" stop-color="#000" stop-opacity="0.021"/><stop offset="0.7911" stop-color="#000" stop-opacity="0.03"/><stop offset="0.7954" stop-color="#000" stop-opacity="0.04"/><stop offset="0.7997" stop-color="#000" stop-opacity="0.052"/><stop offset="0.8039" stop-color="#000" stop-opacity="0.064"/><stop offset="0.8061" stop-color="#000" stop-opacity="0.069"/><stop offset="0.8082" stop-color="#000" stop-opacity="0.074"/><stop offset="0.8124" stop-color="#000" stop-opacity="0.082"/><stop offset="0.8146" stop-color="#000" stop-opacity="0.084"/><stop offset="0.8167" stop-color="#000" stop-opacity="0.08"/><stop offset="0.821" stop-color="#000" stop-opacity="0.055"/><stop offset="0.8218" stop-color="#000" stop-opacity="0.049"/><stop offset="0.8252" stop-color="#000" stop-opacity="0.025"/><stop offset="0.8274" stop-color="#000" stop-opacity="0"/><stop offset="0.8274" stop-color="#fff" stop-opacity="0"/><stop offset="0.8295" stop-color="#fff" stop-opacity="0.068"/><stop offset="0.8327" stop-color="#fff" stop-opacity="0.207"/><stop offset="0.8338" stop-color="#fff" stop-opacity="0.243"/><stop offset="0.838" stop-color="#fff" stop-opacity="0.359"/><stop offset="0.8423" stop-color="#fff" stop-opacity="0.412"/><stop offset="0.8434" stop-color="#fff" stop-opacity="0.415"/><stop offset="0.8465" stop-color="#fff" stop-opacity="0.391"/><stop offset="0.8487" stop-color="#fff" stop-opacity="0.359"/><stop offset="0.8508" stop-color="#fff" stop-opacity="0.311"/><stop offset="0.854" stop-color="#fff" stop-opacity="0.207"/><stop offset="0.8551" stop-color="#fff" stop-opacity="0.169"/><stop offset="0.8593" stop-color="#fff" stop-opacity="0"/><stop offset="0.8593" stop-color="#000" stop-opacity="0"/><stop offset="0.8636" stop-color="#000" stop-opacity="0.135"/><stop offset="0.8659" stop-color="#000" stop-opacity="0.198"/><stop offset="0.8679" stop-color="#000" stop-opacity="0.249"/><stop offset="0.8721" stop-color="#000" stop-opacity="0.339"/><stop offset="0.8724" stop-color="#000" stop-opacity="0.342"/><stop offset="0.8764" stop-color="#000" stop-opacity="0.385"/><stop offset="0.8789" stop-color="#000" stop-opacity="0.395"/><stop offset="0.8806" stop-color="#000" stop-opacity="0.39"/><stop offset="0.8849" stop-color="#000" stop-opacity="0.349"/><stop offset="0.8855" stop-color="#000" stop-opacity="0.342"/><stop offset="0.8892" stop-color="#000" stop-opacity="0.271"/><stop offset="0.892" stop-color="#000" stop-opacity="0.198"/><stop offset="0.8934" stop-color="#000" stop-opacity="0.155"/><stop offset="0.8977" stop-color="#000" stop-opacity="0.017"/><stop offset="0.8986" stop-color="#000" stop-opacity="0"/><stop offset="0.8986" stop-color="#fff" stop-opacity="0"/><stop offset="0.902" stop-color="#fff" stop-opacity="0.042"/><stop offset="0.9054" stop-color="#fff" stop-opacity="0.071"/><stop offset="0.9062" stop-color="#fff" stop-opacity="0.077"/><stop offset="0.9105" stop-color="#fff" stop-opacity="0.109"/><stop offset="0.9143" stop-color="#fff" stop-opacity="0.121"/><stop offset="0.9147" stop-color="#fff" stop-opacity="0.121"/><stop offset="0.919" stop-color="#fff" stop-opacity="0.118"/><stop offset="0.9233" stop-color="#fff" stop-opacity="0.11"/><stop offset="0.9275" stop-color="#fff" stop-opacity="0.101"/><stop offset="0.9318" stop-color="#fff" stop-opacity="0.092"/><stop offset="0.9361" stop-color="#fff" stop-opacity="0.081"/><stop offset="0.9403" stop-color="#fff" stop-opacity="0.07"/><stop offset="0.9446" stop-color="#fff" stop-opacity="0.061"/><stop offset="0.9488" stop-color="#fff" stop-opacity="0.054"/><stop offset="0.9531" stop-color="#fff" stop-opacity="0.047"/><stop offset="0.9574" stop-color="#fff" stop-opacity="0.041"/><stop offset="0.9616" stop-color="#fff" stop-opacity="0.036"/><stop offset="0.9659" stop-color="#fff" stop-opacity="0.03"/><stop offset="0.9702" stop-color="#fff" stop-opacity="0.025"/><stop offset="0.9744" stop-color="#fff" stop-opacity="0.02"/><stop offset="0.9787" stop-color="#fff" stop-opacity="0.014"/><stop offset="0.9829" stop-color="#fff" stop-opacity="0.009"/><stop offset="0.9872" stop-color="#fff" stop-opacity="0.005"/><stop offset="0.9915" stop-color="#fff" stop-opacity="0"/></radialGradient><radialGradient id="gTc" gradientUnits="userSpaceOnUse" cx="0" cy="0" r="1.1724" gradientTransform="translate(350.0 301.8) scale(298.0 325.7)"><stop offset="0.7438" stop-color="#fff" stop-opacity="0"/><stop offset="0.7456" stop-color="#fff" stop-opacity="0.002"/><stop offset="0.7482" stop-color="#fff" stop-opacity="0.005"/><stop offset="0.7508" stop-color="#fff" stop-opacity="0.008"/><stop offset="0.7534" stop-color="#fff" stop-opacity="0.012"/><stop offset="0.756" stop-color="#fff" stop-opacity="0.015"/><stop offset="0.7587" stop-color="#fff" stop-opacity="0.018"/><stop offset="0.7613" stop-color="#fff" stop-opacity="0.021"/><stop offset="0.7639" stop-color="#fff" stop-opacity="0.025"/><stop offset="0.7665" stop-color="#fff" stop-opacity="0.028"/><stop offset="0.7681" stop-color="#fff" stop-opacity="0.03"/><stop offset="0.7691" stop-color="#fff" stop-opacity="0.032"/><stop offset="0.7717" stop-color="#fff" stop-opacity="0.036"/><stop offset="0.7744" stop-color="#fff" stop-opacity="0.041"/><stop offset="0.777" stop-color="#fff" stop-opacity="0.046"/><stop offset="0.7796" stop-color="#fff" stop-opacity="0.051"/><stop offset="0.7822" stop-color="#fff" stop-opacity="0.055"/><stop offset="0.7848" stop-color="#fff" stop-opacity="0.058"/><stop offset="0.7875" stop-color="#fff" stop-opacity="0.06"/><stop offset="0.7893" stop-color="#fff" stop-opacity="0.061"/><stop offset="0.7901" stop-color="#fff" stop-opacity="0.061"/><stop offset="0.7927" stop-color="#fff" stop-opacity="0.058"/><stop offset="0.7953" stop-color="#fff" stop-opacity="0.054"/><stop offset="0.7979" stop-color="#fff" stop-opacity="0.048"/><stop offset="0.8006" stop-color="#fff" stop-opacity="0.041"/><stop offset="0.8006" stop-color="#fff" stop-opacity="0.04"/><stop offset="0.8032" stop-color="#fff" stop-opacity="0.03"/><stop offset="0.8058" stop-color="#fff" stop-opacity="0.013"/><stop offset="0.8074" stop-color="#fff" stop-opacity="0"/><stop offset="0.8074" stop-color="#000" stop-opacity="0"/><stop offset="0.8084" stop-color="#000" stop-opacity="0.009"/><stop offset="0.811" stop-color="#000" stop-opacity="0.043"/><stop offset="0.8136" stop-color="#000" stop-opacity="0.085"/><stop offset="0.8163" stop-color="#000" stop-opacity="0.129"/><stop offset="0.8176" stop-color="#000" stop-opacity="0.148"/><stop offset="0.8189" stop-color="#000" stop-opacity="0.168"/><stop offset="0.8215" stop-color="#000" stop-opacity="0.208"/><stop offset="0.8241" stop-color="#000" stop-opacity="0.247"/><stop offset="0.8267" stop-color="#000" stop-opacity="0.279"/><stop offset="0.8275" stop-color="#000" stop-opacity="0.287"/><stop offset="0.8294" stop-color="#000" stop-opacity="0.305"/><stop offset="0.832" stop-color="#000" stop-opacity="0.328"/><stop offset="0.8346" stop-color="#000" stop-opacity="0.341"/><stop offset="0.8351" stop-color="#000" stop-opacity="0.341"/><stop offset="0.8372" stop-color="#000" stop-opacity="0.333"/><stop offset="0.8398" stop-color="#000" stop-opacity="0.304"/><stop offset="0.8425" stop-color="#000" stop-opacity="0.265"/><stop offset="0.8436" stop-color="#000" stop-opacity="0.247"/><stop offset="0.8451" stop-color="#000" stop-opacity="0.22"/><stop offset="0.8477" stop-color="#000" stop-opacity="0.154"/><stop offset="0.8503" stop-color="#000" stop-opacity="0.077"/><stop offset="0.8529" stop-color="#000" stop-opacity="0"/><stop offset="0.8529" stop-color="#fff" stop-opacity="0"/><stop offset="0.8555" stop-color="#fff" stop-opacity="0.08"/><stop offset="0.8582" stop-color="#fff" stop-opacity="0.163"/><stop offset="0.8608" stop-color="#fff" stop-opacity="0.238"/><stop offset="0.8614" stop-color="#fff" stop-opacity="0.253"/><stop offset="0.8634" stop-color="#fff" stop-opacity="0.299"/><stop offset="0.866" stop-color="#fff" stop-opacity="0.355"/><stop offset="0.8686" stop-color="#fff" stop-opacity="0.4"/><stop offset="0.8699" stop-color="#fff" stop-opacity="0.415"/><stop offset="0.8713" stop-color="#fff" stop-opacity="0.429"/><stop offset="0.8739" stop-color="#fff" stop-opacity="0.45"/><stop offset="0.8756" stop-color="#fff" stop-opacity="0.455"/><stop offset="0.8765" stop-color="#fff" stop-opacity="0.454"/><stop offset="0.8791" stop-color="#fff" stop-opacity="0.441"/><stop offset="0.8817" stop-color="#fff" stop-opacity="0.418"/><stop offset="0.884" stop-color="#fff" stop-opacity="0.395"/><stop offset="0.8844" stop-color="#fff" stop-opacity="0.391"/><stop offset="0.887" stop-color="#fff" stop-opacity="0.351"/><stop offset="0.8896" stop-color="#fff" stop-opacity="0.298"/><stop offset="0.8922" stop-color="#fff" stop-opacity="0.239"/><stop offset="0.8939" stop-color="#fff" stop-opacity="0.202"/><stop offset="0.8948" stop-color="#fff" stop-opacity="0.184"/><stop offset="0.8974" stop-color="#fff" stop-opacity="0.123"/><stop offset="0.9001" stop-color="#fff" stop-opacity="0.063"/><stop offset="0.9027" stop-color="#fff" stop-opacity="0.013"/><stop offset="0.9036" stop-color="#fff" stop-opacity="0"/><stop offset="0.9036" stop-color="#000" stop-opacity="0"/><stop offset="0.9053" stop-color="#000" stop-opacity="0.021"/><stop offset="0.9079" stop-color="#000" stop-opacity="0.047"/><stop offset="0.9105" stop-color="#000" stop-opacity="0.067"/><stop offset="0.9109" stop-color="#000" stop-opacity="0.069"/><stop offset="0.9132" stop-color="#000" stop-opacity="0.083"/><stop offset="0.9158" stop-color="#000" stop-opacity="0.097"/><stop offset="0.9184" stop-color="#000" stop-opacity="0.109"/><stop offset="0.921" stop-color="#000" stop-opacity="0.114"/><stop offset="0.9214" stop-color="#000" stop-opacity="0.114"/><stop offset="0.9236" stop-color="#000" stop-opacity="0.112"/><stop offset="0.9263" stop-color="#000" stop-opacity="0.109"/><stop offset="0.9289" stop-color="#000" stop-opacity="0.103"/><stop offset="0.9315" stop-color="#000" stop-opacity="0.097"/><stop offset="0.9341" stop-color="#000" stop-opacity="0.091"/><stop offset="0.9349" stop-color="#000" stop-opacity="0.089"/><stop offset="0.9367" stop-color="#000" stop-opacity="0.085"/><stop offset="0.9393" stop-color="#000" stop-opacity="0.079"/><stop offset="0.942" stop-color="#000" stop-opacity="0.073"/><stop offset="0.9446" stop-color="#000" stop-opacity="0.067"/><stop offset="0.9472" stop-color="#000" stop-opacity="0.06"/><stop offset="0.9498" stop-color="#000" stop-opacity="0.054"/><stop offset="0.9524" stop-color="#000" stop-opacity="0.049"/><stop offset="0.9547" stop-color="#000" stop-opacity="0.044"/><stop offset="0.9551" stop-color="#000" stop-opacity="0.044"/><stop offset="0.9577" stop-color="#000" stop-opacity="0.04"/><stop offset="0.9603" stop-color="#000" stop-opacity="0.036"/><stop offset="0.9629" stop-color="#000" stop-opacity="0.032"/><stop offset="0.9655" stop-color="#000" stop-opacity="0.029"/><stop offset="0.9682" stop-color="#000" stop-opacity="0.025"/><stop offset="0.9708" stop-color="#000" stop-opacity="0.022"/><stop offset="0.9734" stop-color="#000" stop-opacity="0.019"/><stop offset="0.976" stop-color="#000" stop-opacity="0.016"/><stop offset="0.9774" stop-color="#000" stop-opacity="0.015"/><stop offset="0.9786" stop-color="#000" stop-opacity="0.014"/><stop offset="0.9812" stop-color="#000" stop-opacity="0.011"/><stop offset="0.9839" stop-color="#000" stop-opacity="0.008"/><stop offset="0.9865" stop-color="#000" stop-opacity="0.006"/><stop offset="0.9891" stop-color="#000" stop-opacity="0.004"/><stop offset="0.9917" stop-color="#000" stop-opacity="0.002"/><stop offset="0.9943" stop-color="#000" stop-opacity="0"/></radialGradient><radialGradient id="gUc" gradientUnits="userSpaceOnUse" cx="0" cy="0" r="1.1977" gradientTransform="translate(350.0 377.3) scale(284.0 207.2)"><stop offset="0.7369" stop-color="#fff" stop-opacity="0"/><stop offset="0.7379" stop-color="#fff" stop-opacity="0.001"/><stop offset="0.7408" stop-color="#fff" stop-opacity="0.005"/><stop offset="0.7438" stop-color="#fff" stop-opacity="0.009"/><stop offset="0.7467" stop-color="#fff" stop-opacity="0.013"/><stop offset="0.7496" stop-color="#fff" stop-opacity="0.017"/><stop offset="0.7526" stop-color="#fff" stop-opacity="0.021"/><stop offset="0.7555" stop-color="#fff" stop-opacity="0.026"/><stop offset="0.7585" stop-color="#fff" stop-opacity="0.03"/><stop offset="0.7587" stop-color="#fff" stop-opacity="0.03"/><stop offset="0.7614" stop-color="#fff" stop-opacity="0.035"/><stop offset="0.7643" stop-color="#fff" stop-opacity="0.041"/><stop offset="0.7673" stop-color="#fff" stop-opacity="0.047"/><stop offset="0.7702" stop-color="#fff" stop-opacity="0.053"/><stop offset="0.7732" stop-color="#fff" stop-opacity="0.058"/><stop offset="0.7761" stop-color="#fff" stop-opacity="0.06"/><stop offset="0.7778" stop-color="#fff" stop-opacity="0.061"/><stop offset="0.779" stop-color="#fff" stop-opacity="0.06"/><stop offset="0.782" stop-color="#fff" stop-opacity="0.056"/><stop offset="0.7849" stop-color="#fff" stop-opacity="0.049"/><stop offset="0.7879" stop-color="#fff" stop-opacity="0.041"/><stop offset="0.7879" stop-color="#fff" stop-opacity="0.04"/><stop offset="0.7908" stop-color="#fff" stop-opacity="0.026"/><stop offset="0.7937" stop-color="#fff" stop-opacity="0.002"/><stop offset="0.794" stop-color="#fff" stop-opacity="0"/><stop offset="0.794" stop-color="#000" stop-opacity="0"/><stop offset="0.7967" stop-color="#000" stop-opacity="0.034"/><stop offset="0.7996" stop-color="#000" stop-opacity="0.085"/><stop offset="0.8026" stop-color="#000" stop-opacity="0.139"/><stop offset="0.8032" stop-color="#000" stop-opacity="0.148"/><stop offset="0.8055" stop-color="#000" stop-opacity="0.188"/><stop offset="0.8084" stop-color="#000" stop-opacity="0.237"/><stop offset="0.8114" stop-color="#000" stop-opacity="0.279"/><stop offset="0.812" stop-color="#000" stop-opacity="0.287"/><stop offset="0.8143" stop-color="#000" stop-opacity="0.311"/><stop offset="0.8173" stop-color="#000" stop-opacity="0.336"/><stop offset="0.8189" stop-color="#000" stop-opacity="0.341"/><stop offset="0.8202" stop-color="#000" stop-opacity="0.337"/><stop offset="0.8231" stop-color="#000" stop-opacity="0.304"/><stop offset="0.8261" stop-color="#000" stop-opacity="0.255"/><stop offset="0.8265" stop-color="#000" stop-opacity="0.247"/><stop offset="0.829" stop-color="#000" stop-opacity="0.189"/><stop offset="0.832" stop-color="#000" stop-opacity="0.097"/><stop offset="0.8349" stop-color="#000" stop-opacity="0"/><stop offset="0.8349" stop-color="#fff" stop-opacity="0"/><stop offset="0.8378" stop-color="#fff" stop-opacity="0.101"/><stop offset="0.8408" stop-color="#fff" stop-opacity="0.202"/><stop offset="0.8425" stop-color="#fff" stop-opacity="0.253"/><stop offset="0.8437" stop-color="#fff" stop-opacity="0.284"/><stop offset="0.8467" stop-color="#fff" stop-opacity="0.355"/><stop offset="0.8496" stop-color="#fff" stop-opacity="0.408"/><stop offset="0.8501" stop-color="#fff" stop-opacity="0.415"/><stop offset="0.8525" stop-color="#fff" stop-opacity="0.441"/><stop offset="0.8552" stop-color="#fff" stop-opacity="0.455"/><stop offset="0.8555" stop-color="#fff" stop-opacity="0.455"/><stop offset="0.8584" stop-color="#fff" stop-opacity="0.441"/><stop offset="0.8614" stop-color="#fff" stop-opacity="0.412"/><stop offset="0.8628" stop-color="#fff" stop-opacity="0.395"/><stop offset="0.8643" stop-color="#fff" stop-opacity="0.374"/><stop offset="0.8672" stop-color="#fff" stop-opacity="0.312"/><stop offset="0.8702" stop-color="#fff" stop-opacity="0.239"/><stop offset="0.8717" stop-color="#fff" stop-opacity="0.202"/><stop offset="0.8731" stop-color="#fff" stop-opacity="0.169"/><stop offset="0.8761" stop-color="#fff" stop-opacity="0.092"/><stop offset="0.879" stop-color="#fff" stop-opacity="0.024"/><stop offset="0.8804" stop-color="#fff" stop-opacity="0"/><stop offset="0.8804" stop-color="#000" stop-opacity="0"/><stop offset="0.8819" stop-color="#000" stop-opacity="0.021"/><stop offset="0.8849" stop-color="#000" stop-opacity="0.053"/><stop offset="0.887" stop-color="#000" stop-opacity="0.069"/><stop offset="0.8878" stop-color="#000" stop-opacity="0.075"/><stop offset="0.8908" stop-color="#000" stop-opacity="0.094"/><stop offset="0.8937" stop-color="#000" stop-opacity="0.109"/><stop offset="0.8964" stop-color="#000" stop-opacity="0.114"/><stop offset="0.8966" stop-color="#000" stop-opacity="0.114"/><stop offset="0.8996" stop-color="#000" stop-opacity="0.111"/><stop offset="0.9025" stop-color="#000" stop-opacity="0.105"/><stop offset="0.9055" stop-color="#000" stop-opacity="0.097"/><stop offset="0.9084" stop-color="#000" stop-opacity="0.089"/><stop offset="0.9086" stop-color="#000" stop-opacity="0.089"/><stop offset="0.9113" stop-color="#000" stop-opacity="0.082"/><stop offset="0.9143" stop-color="#000" stop-opacity="0.075"/><stop offset="0.9172" stop-color="#000" stop-opacity="0.067"/><stop offset="0.9202" stop-color="#000" stop-opacity="0.059"/><stop offset="0.9231" stop-color="#000" stop-opacity="0.051"/><stop offset="0.926" stop-color="#000" stop-opacity="0.045"/><stop offset="0.9263" stop-color="#000" stop-opacity="0.044"/><stop offset="0.929" stop-color="#000" stop-opacity="0.04"/><stop offset="0.9319" stop-color="#000" stop-opacity="0.035"/><stop offset="0.9349" stop-color="#000" stop-opacity="0.03"/><stop offset="0.9378" stop-color="#000" stop-opacity="0.026"/><stop offset="0.9407" stop-color="#000" stop-opacity="0.022"/><stop offset="0.9437" stop-color="#000" stop-opacity="0.018"/><stop offset="0.9466" stop-color="#000" stop-opacity="0.015"/><stop offset="0.9467" stop-color="#000" stop-opacity="0.015"/><stop offset="0.9496" stop-color="#000" stop-opacity="0.012"/><stop offset="0.9525" stop-color="#000" stop-opacity="0.008"/><stop offset="0.9554" stop-color="#000" stop-opacity="0.006"/><stop offset="0.9584" stop-color="#000" stop-opacity="0.003"/><stop offset="0.9613" stop-color="#000" stop-opacity="0"/><stop offset="0.9619" stop-color="#000" stop-opacity="0"/></radialGradient>
<radialGradient id="gDd" gradientUnits="userSpaceOnUse" cx="350" cy="298.6" r="224.2"><stop offset="0.7893" stop-color="#000" stop-opacity="0"/><stop offset="0.7895" stop-color="#000" stop-opacity="0"/><stop offset="0.7939" stop-color="#000" stop-opacity="0.002"/><stop offset="0.7984" stop-color="#000" stop-opacity="0.007"/><stop offset="0.8029" stop-color="#000" stop-opacity="0.014"/><stop offset="0.8073" stop-color="#000" stop-opacity="0.023"/><stop offset="0.8103" stop-color="#000" stop-opacity="0.03"/><stop offset="0.8118" stop-color="#000" stop-opacity="0.034"/><stop offset="0.8162" stop-color="#000" stop-opacity="0.052"/><stop offset="0.8207" stop-color="#000" stop-opacity="0.076"/><stop offset="0.8244" stop-color="#000" stop-opacity="0.099"/><stop offset="0.8252" stop-color="#000" stop-opacity="0.104"/><stop offset="0.8296" stop-color="#000" stop-opacity="0.151"/><stop offset="0.8341" stop-color="#000" stop-opacity="0.192"/><stop offset="0.8361" stop-color="#000" stop-opacity="0.198"/><stop offset="0.8385" stop-color="#000" stop-opacity="0.189"/><stop offset="0.843" stop-color="#000" stop-opacity="0.142"/><stop offset="0.844" stop-color="#000" stop-opacity="0.128"/><stop offset="0.8475" stop-color="#000" stop-opacity="0.066"/><stop offset="0.8497" stop-color="#000" stop-opacity="0"/><stop offset="0.8497" stop-color="#fff" stop-opacity="0"/><stop offset="0.8519" stop-color="#fff" stop-opacity="0.157"/><stop offset="0.856" stop-color="#fff" stop-opacity="0.557"/><stop offset="0.8564" stop-color="#fff" stop-opacity="0.586"/><stop offset="0.8608" stop-color="#fff" stop-opacity="0.898"/><stop offset="0.8623" stop-color="#fff" stop-opacity="0.964"/><stop offset="0.8653" stop-color="#fff" stop-opacity="1"/><stop offset="0.8686" stop-color="#fff" stop-opacity="1"/><stop offset="0.8698" stop-color="#fff" stop-opacity="1"/><stop offset="0.8742" stop-color="#fff" stop-opacity="0.99"/><stop offset="0.875" stop-color="#fff" stop-opacity="0.964"/><stop offset="0.8787" stop-color="#fff" stop-opacity="0.752"/><stop offset="0.8813" stop-color="#fff" stop-opacity="0.557"/><stop offset="0.8831" stop-color="#fff" stop-opacity="0.403"/><stop offset="0.8876" stop-color="#fff" stop-opacity="0"/><stop offset="0.8876" stop-color="#000" stop-opacity="0"/><stop offset="0.8921" stop-color="#000" stop-opacity="0.343"/><stop offset="0.895" stop-color="#000" stop-opacity="0.543"/><stop offset="0.8965" stop-color="#000" stop-opacity="0.638"/><stop offset="0.901" stop-color="#000" stop-opacity="0.889"/><stop offset="0.9024" stop-color="#000" stop-opacity="0.941"/><stop offset="0.9054" stop-color="#000" stop-opacity="1"/><stop offset="0.9098" stop-color="#000" stop-opacity="1"/><stop offset="0.9099" stop-color="#000" stop-opacity="1"/><stop offset="0.9144" stop-color="#000" stop-opacity="1"/><stop offset="0.9173" stop-color="#000" stop-opacity="0.941"/><stop offset="0.9188" stop-color="#000" stop-opacity="0.884"/><stop offset="0.9233" stop-color="#000" stop-opacity="0.631"/><stop offset="0.9247" stop-color="#000" stop-opacity="0.544"/><stop offset="0.9277" stop-color="#000" stop-opacity="0.301"/><stop offset="0.9321" stop-color="#000" stop-opacity="0"/><stop offset="0.9321" stop-color="#fff" stop-opacity="0"/><stop offset="0.9322" stop-color="#fff" stop-opacity="0.004"/><stop offset="0.9367" stop-color="#fff" stop-opacity="0.11"/><stop offset="0.9372" stop-color="#fff" stop-opacity="0.121"/><stop offset="0.9411" stop-color="#fff" stop-opacity="0.205"/><stop offset="0.9456" stop-color="#fff" stop-opacity="0.277"/><stop offset="0.9471" stop-color="#fff" stop-opacity="0.283"/><stop offset="0.95" stop-color="#fff" stop-opacity="0.268"/><stop offset="0.9545" stop-color="#fff" stop-opacity="0.213"/><stop offset="0.9579" stop-color="#fff" stop-opacity="0.172"/><stop offset="0.959" stop-color="#fff" stop-opacity="0.161"/><stop offset="0.9634" stop-color="#fff" stop-opacity="0.119"/><stop offset="0.9679" stop-color="#fff" stop-opacity="0.082"/><stop offset="0.9696" stop-color="#fff" stop-opacity="0.071"/><stop offset="0.9723" stop-color="#fff" stop-opacity="0.055"/><stop offset="0.9768" stop-color="#fff" stop-opacity="0.032"/><stop offset="0.9813" stop-color="#fff" stop-opacity="0.013"/><stop offset="0.9857" stop-color="#fff" stop-opacity="0"/><stop offset="0.986" stop-color="#fff" stop-opacity="0"/></radialGradient><radialGradient id="gDid" gradientUnits="userSpaceOnUse" cx="350" cy="298.6" r="224.2"><stop offset="0.7893" stop-color="#fff" stop-opacity="0"/><stop offset="0.7895" stop-color="#fff" stop-opacity="0"/><stop offset="0.7939" stop-color="#fff" stop-opacity="0.002"/><stop offset="0.7984" stop-color="#fff" stop-opacity="0.007"/><stop offset="0.8029" stop-color="#fff" stop-opacity="0.014"/><stop offset="0.8073" stop-color="#fff" stop-opacity="0.024"/><stop offset="0.8103" stop-color="#fff" stop-opacity="0.03"/><stop offset="0.8118" stop-color="#fff" stop-opacity="0.034"/><stop offset="0.8162" stop-color="#fff" stop-opacity="0.053"/><stop offset="0.8207" stop-color="#fff" stop-opacity="0.078"/><stop offset="0.8244" stop-color="#fff" stop-opacity="0.101"/><stop offset="0.8252" stop-color="#fff" stop-opacity="0.107"/><stop offset="0.8296" stop-color="#fff" stop-opacity="0.154"/><stop offset="0.8341" stop-color="#fff" stop-opacity="0.196"/><stop offset="0.8361" stop-color="#fff" stop-opacity="0.202"/><stop offset="0.8385" stop-color="#fff" stop-opacity="0.193"/><stop offset="0.843" stop-color="#fff" stop-opacity="0.145"/><stop offset="0.844" stop-color="#fff" stop-opacity="0.132"/><stop offset="0.8475" stop-color="#fff" stop-opacity="0.068"/><stop offset="0.8497" stop-color="#fff" stop-opacity="0"/><stop offset="0.8497" stop-color="#000" stop-opacity="0"/><stop offset="0.8519" stop-color="#000" stop-opacity="0.154"/><stop offset="0.856" stop-color="#000" stop-opacity="0.543"/><stop offset="0.8564" stop-color="#000" stop-opacity="0.572"/><stop offset="0.8608" stop-color="#000" stop-opacity="0.877"/><stop offset="0.8623" stop-color="#000" stop-opacity="0.941"/><stop offset="0.8653" stop-color="#000" stop-opacity="1"/><stop offset="0.8686" stop-color="#000" stop-opacity="1"/><stop offset="0.8698" stop-color="#000" stop-opacity="1"/><stop offset="0.8742" stop-color="#000" stop-opacity="0.966"/><stop offset="0.875" stop-color="#000" stop-opacity="0.941"/><stop offset="0.8787" stop-color="#000" stop-opacity="0.734"/><stop offset="0.8813" stop-color="#000" stop-opacity="0.543"/><stop offset="0.8831" stop-color="#000" stop-opacity="0.393"/><stop offset="0.8876" stop-color="#000" stop-opacity="0"/><stop offset="0.8876" stop-color="#fff" stop-opacity="0"/><stop offset="0.8921" stop-color="#fff" stop-opacity="0.352"/><stop offset="0.895" stop-color="#fff" stop-opacity="0.557"/><stop offset="0.8965" stop-color="#fff" stop-opacity="0.654"/><stop offset="0.901" stop-color="#fff" stop-opacity="0.91"/><stop offset="0.9024" stop-color="#fff" stop-opacity="0.964"/><stop offset="0.9054" stop-color="#fff" stop-opacity="1"/><stop offset="0.9098" stop-color="#fff" stop-opacity="1"/><stop offset="0.9099" stop-color="#fff" stop-opacity="1"/><stop offset="0.9144" stop-color="#fff" stop-opacity="1"/><stop offset="0.9173" stop-color="#fff" stop-opacity="0.964"/><stop offset="0.9188" stop-color="#fff" stop-opacity="0.905"/><stop offset="0.9233" stop-color="#fff" stop-opacity="0.647"/><stop offset="0.9247" stop-color="#fff" stop-opacity="0.557"/><stop offset="0.9277" stop-color="#fff" stop-opacity="0.309"/><stop offset="0.9321" stop-color="#fff" stop-opacity="0"/><stop offset="0.9321" stop-color="#000" stop-opacity="0"/><stop offset="0.9322" stop-color="#000" stop-opacity="0.004"/><stop offset="0.9367" stop-color="#000" stop-opacity="0.108"/><stop offset="0.9372" stop-color="#000" stop-opacity="0.119"/><stop offset="0.9411" stop-color="#000" stop-opacity="0.2"/><stop offset="0.9456" stop-color="#000" stop-opacity="0.271"/><stop offset="0.9471" stop-color="#000" stop-opacity="0.277"/><stop offset="0.95" stop-color="#000" stop-opacity="0.262"/><stop offset="0.9545" stop-color="#000" stop-opacity="0.208"/><stop offset="0.9579" stop-color="#000" stop-opacity="0.168"/><stop offset="0.959" stop-color="#000" stop-opacity="0.158"/><stop offset="0.9634" stop-color="#000" stop-opacity="0.116"/><stop offset="0.9679" stop-color="#000" stop-opacity="0.08"/><stop offset="0.9696" stop-color="#000" stop-opacity="0.069"/><stop offset="0.9723" stop-color="#000" stop-opacity="0.054"/><stop offset="0.9768" stop-color="#000" stop-opacity="0.031"/><stop offset="0.9813" stop-color="#000" stop-opacity="0.012"/><stop offset="0.9857" stop-color="#000" stop-opacity="0"/><stop offset="0.986" stop-color="#000" stop-opacity="0"/></radialGradient><radialGradient id="gRod" gradientUnits="userSpaceOnUse" cx="350" cy="439" r="234.6"><stop offset="0.8883" stop-color="#fff" stop-opacity="0"/><stop offset="0.8892" stop-color="#fff" stop-opacity="0.018"/><stop offset="0.8934" stop-color="#fff" stop-opacity="0.098"/><stop offset="0.8943" stop-color="#fff" stop-opacity="0.111"/><stop offset="0.8977" stop-color="#fff" stop-opacity="0.165"/><stop offset="0.902" stop-color="#fff" stop-opacity="0.211"/><stop offset="0.9028" stop-color="#fff" stop-opacity="0.213"/><stop offset="0.9062" stop-color="#fff" stop-opacity="0.2"/><stop offset="0.9105" stop-color="#fff" stop-opacity="0.167"/><stop offset="0.9126" stop-color="#fff" stop-opacity="0.152"/><stop offset="0.9147" stop-color="#fff" stop-opacity="0.138"/><stop offset="0.919" stop-color="#fff" stop-opacity="0.108"/><stop offset="0.9233" stop-color="#fff" stop-opacity="0.081"/><stop offset="0.9254" stop-color="#fff" stop-opacity="0.071"/><stop offset="0.9275" stop-color="#fff" stop-opacity="0.062"/><stop offset="0.9318" stop-color="#fff" stop-opacity="0.047"/><stop offset="0.9361" stop-color="#fff" stop-opacity="0.035"/><stop offset="0.9403" stop-color="#fff" stop-opacity="0.025"/><stop offset="0.9446" stop-color="#fff" stop-opacity="0.018"/><stop offset="0.9488" stop-color="#fff" stop-opacity="0.011"/><stop offset="0.9531" stop-color="#fff" stop-opacity="0.006"/><stop offset="0.9574" stop-color="#fff" stop-opacity="0.002"/><stop offset="0.9616" stop-color="#fff" stop-opacity="0"/></radialGradient><radialGradient id="gRbd" gradientUnits="userSpaceOnUse" cx="350" cy="439" r="234.6"><stop offset="0.8593" stop-color="#000" stop-opacity="0"/><stop offset="0.8636" stop-color="#000" stop-opacity="0.32"/><stop offset="0.8642" stop-color="#000" stop-opacity="0.356"/><stop offset="0.8679" stop-color="#000" stop-opacity="0.573"/><stop offset="0.869" stop-color="#000" stop-opacity="0.616"/><stop offset="0.8721" stop-color="#000" stop-opacity="0.695"/><stop offset="0.8738" stop-color="#000" stop-opacity="0.711"/><stop offset="0.8764" stop-color="#000" stop-opacity="0.678"/><stop offset="0.8787" stop-color="#000" stop-opacity="0.616"/><stop offset="0.8806" stop-color="#000" stop-opacity="0.53"/><stop offset="0.8835" stop-color="#000" stop-opacity="0.356"/><stop offset="0.8849" stop-color="#000" stop-opacity="0.262"/><stop offset="0.8883" stop-color="#000" stop-opacity="0"/></radialGradient><radialGradient id="gRrd" gradientUnits="userSpaceOnUse" cx="350" cy="439" r="234.6"><stop offset="0.8303" stop-color="#fff" stop-opacity="0"/><stop offset="0.8338" stop-color="#fff" stop-opacity="0.268"/><stop offset="0.8352" stop-color="#fff" stop-opacity="0.364"/><stop offset="0.838" stop-color="#fff" stop-opacity="0.543"/><stop offset="0.84" stop-color="#fff" stop-opacity="0.631"/><stop offset="0.8423" stop-color="#fff" stop-opacity="0.694"/><stop offset="0.8448" stop-color="#fff" stop-opacity="0.729"/><stop offset="0.8465" stop-color="#fff" stop-opacity="0.712"/><stop offset="0.8497" stop-color="#fff" stop-opacity="0.631"/><stop offset="0.8508" stop-color="#fff" stop-opacity="0.587"/><stop offset="0.8545" stop-color="#fff" stop-opacity="0.364"/><stop offset="0.8551" stop-color="#fff" stop-opacity="0.327"/><stop offset="0.8593" stop-color="#fff" stop-opacity="0"/></radialGradient><radialGradient id="gRid" gradientUnits="userSpaceOnUse" cx="350" cy="439" r="234.6"><stop offset="0.7826" stop-color="#000" stop-opacity="0"/><stop offset="0.7869" stop-color="#000" stop-opacity="0.005"/><stop offset="0.7911" stop-color="#000" stop-opacity="0.018"/><stop offset="0.7954" stop-color="#000" stop-opacity="0.038"/><stop offset="0.7975" stop-color="#000" stop-opacity="0.049"/><stop offset="0.7997" stop-color="#000" stop-opacity="0.068"/><stop offset="0.8039" stop-color="#000" stop-opacity="0.133"/><stop offset="0.8082" stop-color="#000" stop-opacity="0.217"/><stop offset="0.8124" stop-color="#000" stop-opacity="0.358"/><stop offset="0.8167" stop-color="#000" stop-opacity="0.455"/><stop offset="0.821" stop-color="#000" stop-opacity="0.394"/><stop offset="0.8244" stop-color="#000" stop-opacity="0.296"/><stop offset="0.8252" stop-color="#000" stop-opacity="0.268"/><stop offset="0.8295" stop-color="#000" stop-opacity="0.052"/><stop offset="0.8303" stop-color="#000" stop-opacity="0"/></radialGradient><radialGradient id="gRtd" gradientUnits="userSpaceOnUse" cx="350" cy="439" r="234.6"><stop offset="0.772" stop-color="#000" stop-opacity="0"/><stop offset="0.7741" stop-color="#000" stop-opacity="0.002"/><stop offset="0.7783" stop-color="#000" stop-opacity="0.008"/><stop offset="0.7826" stop-color="#000" stop-opacity="0.014"/><stop offset="0.7869" stop-color="#000" stop-opacity="0.021"/><stop offset="0.7911" stop-color="#000" stop-opacity="0.03"/><stop offset="0.7954" stop-color="#000" stop-opacity="0.04"/><stop offset="0.7997" stop-color="#000" stop-opacity="0.052"/><stop offset="0.8039" stop-color="#000" stop-opacity="0.064"/><stop offset="0.8061" stop-color="#000" stop-opacity="0.069"/><stop offset="0.8082" stop-color="#000" stop-opacity="0.074"/><stop offset="0.8124" stop-color="#000" stop-opacity="0.082"/><stop offset="0.8146" stop-color="#000" stop-opacity="0.084"/><stop offset="0.8167" stop-color="#000" stop-opacity="0.08"/><stop offset="0.821" stop-color="#000" stop-opacity="0.055"/><stop offset="0.8218" stop-color="#000" stop-opacity="0.049"/><stop offset="0.8252" stop-color="#000" stop-opacity="0.025"/><stop offset="0.8274" stop-color="#000" stop-opacity="0"/><stop offset="0.8274" stop-color="#fff" stop-opacity="0"/><stop offset="0.8295" stop-color="#fff" stop-opacity="0.068"/><stop offset="0.8327" stop-color="#fff" stop-opacity="0.207"/><stop offset="0.8338" stop-color="#fff" stop-opacity="0.243"/><stop offset="0.838" stop-color="#fff" stop-opacity="0.359"/><stop offset="0.8423" stop-color="#fff" stop-opacity="0.412"/><stop offset="0.8434" stop-color="#fff" stop-opacity="0.415"/><stop offset="0.8465" stop-color="#fff" stop-opacity="0.391"/><stop offset="0.8487" stop-color="#fff" stop-opacity="0.359"/><stop offset="0.8508" stop-color="#fff" stop-opacity="0.311"/><stop offset="0.854" stop-color="#fff" stop-opacity="0.207"/><stop offset="0.8551" stop-color="#fff" stop-opacity="0.169"/><stop offset="0.8593" stop-color="#fff" stop-opacity="0"/><stop offset="0.8593" stop-color="#000" stop-opacity="0"/><stop offset="0.8636" stop-color="#000" stop-opacity="0.135"/><stop offset="0.8659" stop-color="#000" stop-opacity="0.198"/><stop offset="0.8679" stop-color="#000" stop-opacity="0.249"/><stop offset="0.8721" stop-color="#000" stop-opacity="0.339"/><stop offset="0.8724" stop-color="#000" stop-opacity="0.342"/><stop offset="0.8764" stop-color="#000" stop-opacity="0.385"/><stop offset="0.8789" stop-color="#000" stop-opacity="0.395"/><stop offset="0.8806" stop-color="#000" stop-opacity="0.39"/><stop offset="0.8849" stop-color="#000" stop-opacity="0.349"/><stop offset="0.8855" stop-color="#000" stop-opacity="0.342"/><stop offset="0.8892" stop-color="#000" stop-opacity="0.271"/><stop offset="0.892" stop-color="#000" stop-opacity="0.198"/><stop offset="0.8934" stop-color="#000" stop-opacity="0.155"/><stop offset="0.8977" stop-color="#000" stop-opacity="0.017"/><stop offset="0.8986" stop-color="#000" stop-opacity="0"/><stop offset="0.8986" stop-color="#fff" stop-opacity="0"/><stop offset="0.902" stop-color="#fff" stop-opacity="0.042"/><stop offset="0.9054" stop-color="#fff" stop-opacity="0.071"/><stop offset="0.9062" stop-color="#fff" stop-opacity="0.077"/><stop offset="0.9105" stop-color="#fff" stop-opacity="0.109"/><stop offset="0.9143" stop-color="#fff" stop-opacity="0.121"/><stop offset="0.9147" stop-color="#fff" stop-opacity="0.121"/><stop offset="0.919" stop-color="#fff" stop-opacity="0.118"/><stop offset="0.9233" stop-color="#fff" stop-opacity="0.11"/><stop offset="0.9275" stop-color="#fff" stop-opacity="0.101"/><stop offset="0.9318" stop-color="#fff" stop-opacity="0.092"/><stop offset="0.9361" stop-color="#fff" stop-opacity="0.081"/><stop offset="0.9403" stop-color="#fff" stop-opacity="0.07"/><stop offset="0.9446" stop-color="#fff" stop-opacity="0.061"/><stop offset="0.9488" stop-color="#fff" stop-opacity="0.054"/><stop offset="0.9531" stop-color="#fff" stop-opacity="0.047"/><stop offset="0.9574" stop-color="#fff" stop-opacity="0.041"/><stop offset="0.9616" stop-color="#fff" stop-opacity="0.036"/><stop offset="0.9659" stop-color="#fff" stop-opacity="0.03"/><stop offset="0.9702" stop-color="#fff" stop-opacity="0.025"/><stop offset="0.9744" stop-color="#fff" stop-opacity="0.02"/><stop offset="0.9787" stop-color="#fff" stop-opacity="0.014"/><stop offset="0.9829" stop-color="#fff" stop-opacity="0.009"/><stop offset="0.9872" stop-color="#fff" stop-opacity="0.005"/><stop offset="0.9915" stop-color="#fff" stop-opacity="0"/></radialGradient><radialGradient id="gTd" gradientUnits="userSpaceOnUse" cx="0" cy="0" r="1.1724" gradientTransform="translate(350.0 301.8) scale(298.0 325.7)"><stop offset="0.7438" stop-color="#fff" stop-opacity="0"/><stop offset="0.7456" stop-color="#fff" stop-opacity="0.002"/><stop offset="0.7482" stop-color="#fff" stop-opacity="0.005"/><stop offset="0.7508" stop-color="#fff" stop-opacity="0.008"/><stop offset="0.7534" stop-color="#fff" stop-opacity="0.012"/><stop offset="0.756" stop-color="#fff" stop-opacity="0.015"/><stop offset="0.7587" stop-color="#fff" stop-opacity="0.018"/><stop offset="0.7613" stop-color="#fff" stop-opacity="0.021"/><stop offset="0.7639" stop-color="#fff" stop-opacity="0.025"/><stop offset="0.7665" stop-color="#fff" stop-opacity="0.028"/><stop offset="0.7681" stop-color="#fff" stop-opacity="0.03"/><stop offset="0.7691" stop-color="#fff" stop-opacity="0.032"/><stop offset="0.7717" stop-color="#fff" stop-opacity="0.036"/><stop offset="0.7744" stop-color="#fff" stop-opacity="0.041"/><stop offset="0.777" stop-color="#fff" stop-opacity="0.046"/><stop offset="0.7796" stop-color="#fff" stop-opacity="0.051"/><stop offset="0.7822" stop-color="#fff" stop-opacity="0.055"/><stop offset="0.7848" stop-color="#fff" stop-opacity="0.058"/><stop offset="0.7875" stop-color="#fff" stop-opacity="0.06"/><stop offset="0.7893" stop-color="#fff" stop-opacity="0.061"/><stop offset="0.7901" stop-color="#fff" stop-opacity="0.061"/><stop offset="0.7927" stop-color="#fff" stop-opacity="0.058"/><stop offset="0.7953" stop-color="#fff" stop-opacity="0.054"/><stop offset="0.7979" stop-color="#fff" stop-opacity="0.048"/><stop offset="0.8006" stop-color="#fff" stop-opacity="0.041"/><stop offset="0.8006" stop-color="#fff" stop-opacity="0.04"/><stop offset="0.8032" stop-color="#fff" stop-opacity="0.03"/><stop offset="0.8058" stop-color="#fff" stop-opacity="0.013"/><stop offset="0.8074" stop-color="#fff" stop-opacity="0"/><stop offset="0.8074" stop-color="#000" stop-opacity="0"/><stop offset="0.8084" stop-color="#000" stop-opacity="0.009"/><stop offset="0.811" stop-color="#000" stop-opacity="0.043"/><stop offset="0.8136" stop-color="#000" stop-opacity="0.085"/><stop offset="0.8163" stop-color="#000" stop-opacity="0.129"/><stop offset="0.8176" stop-color="#000" stop-opacity="0.148"/><stop offset="0.8189" stop-color="#000" stop-opacity="0.168"/><stop offset="0.8215" stop-color="#000" stop-opacity="0.208"/><stop offset="0.8241" stop-color="#000" stop-opacity="0.247"/><stop offset="0.8267" stop-color="#000" stop-opacity="0.279"/><stop offset="0.8275" stop-color="#000" stop-opacity="0.287"/><stop offset="0.8294" stop-color="#000" stop-opacity="0.305"/><stop offset="0.832" stop-color="#000" stop-opacity="0.328"/><stop offset="0.8346" stop-color="#000" stop-opacity="0.341"/><stop offset="0.8351" stop-color="#000" stop-opacity="0.341"/><stop offset="0.8372" stop-color="#000" stop-opacity="0.333"/><stop offset="0.8398" stop-color="#000" stop-opacity="0.304"/><stop offset="0.8425" stop-color="#000" stop-opacity="0.265"/><stop offset="0.8436" stop-color="#000" stop-opacity="0.247"/><stop offset="0.8451" stop-color="#000" stop-opacity="0.22"/><stop offset="0.8477" stop-color="#000" stop-opacity="0.154"/><stop offset="0.8503" stop-color="#000" stop-opacity="0.077"/><stop offset="0.8529" stop-color="#000" stop-opacity="0"/><stop offset="0.8529" stop-color="#fff" stop-opacity="0"/><stop offset="0.8555" stop-color="#fff" stop-opacity="0.08"/><stop offset="0.8582" stop-color="#fff" stop-opacity="0.163"/><stop offset="0.8608" stop-color="#fff" stop-opacity="0.238"/><stop offset="0.8614" stop-color="#fff" stop-opacity="0.253"/><stop offset="0.8634" stop-color="#fff" stop-opacity="0.299"/><stop offset="0.866" stop-color="#fff" stop-opacity="0.355"/><stop offset="0.8686" stop-color="#fff" stop-opacity="0.4"/><stop offset="0.8699" stop-color="#fff" stop-opacity="0.415"/><stop offset="0.8713" stop-color="#fff" stop-opacity="0.429"/><stop offset="0.8739" stop-color="#fff" stop-opacity="0.45"/><stop offset="0.8756" stop-color="#fff" stop-opacity="0.455"/><stop offset="0.8765" stop-color="#fff" stop-opacity="0.454"/><stop offset="0.8791" stop-color="#fff" stop-opacity="0.441"/><stop offset="0.8817" stop-color="#fff" stop-opacity="0.418"/><stop offset="0.884" stop-color="#fff" stop-opacity="0.395"/><stop offset="0.8844" stop-color="#fff" stop-opacity="0.391"/><stop offset="0.887" stop-color="#fff" stop-opacity="0.351"/><stop offset="0.8896" stop-color="#fff" stop-opacity="0.298"/><stop offset="0.8922" stop-color="#fff" stop-opacity="0.239"/><stop offset="0.8939" stop-color="#fff" stop-opacity="0.202"/><stop offset="0.8948" stop-color="#fff" stop-opacity="0.184"/><stop offset="0.8974" stop-color="#fff" stop-opacity="0.123"/><stop offset="0.9001" stop-color="#fff" stop-opacity="0.063"/><stop offset="0.9027" stop-color="#fff" stop-opacity="0.013"/><stop offset="0.9036" stop-color="#fff" stop-opacity="0"/><stop offset="0.9036" stop-color="#000" stop-opacity="0"/><stop offset="0.9053" stop-color="#000" stop-opacity="0.021"/><stop offset="0.9079" stop-color="#000" stop-opacity="0.047"/><stop offset="0.9105" stop-color="#000" stop-opacity="0.067"/><stop offset="0.9109" stop-color="#000" stop-opacity="0.069"/><stop offset="0.9132" stop-color="#000" stop-opacity="0.083"/><stop offset="0.9158" stop-color="#000" stop-opacity="0.097"/><stop offset="0.9184" stop-color="#000" stop-opacity="0.109"/><stop offset="0.921" stop-color="#000" stop-opacity="0.114"/><stop offset="0.9214" stop-color="#000" stop-opacity="0.114"/><stop offset="0.9236" stop-color="#000" stop-opacity="0.112"/><stop offset="0.9263" stop-color="#000" stop-opacity="0.109"/><stop offset="0.9289" stop-color="#000" stop-opacity="0.103"/><stop offset="0.9315" stop-color="#000" stop-opacity="0.097"/><stop offset="0.9341" stop-color="#000" stop-opacity="0.091"/><stop offset="0.9349" stop-color="#000" stop-opacity="0.089"/><stop offset="0.9367" stop-color="#000" stop-opacity="0.085"/><stop offset="0.9393" stop-color="#000" stop-opacity="0.079"/><stop offset="0.942" stop-color="#000" stop-opacity="0.073"/><stop offset="0.9446" stop-color="#000" stop-opacity="0.067"/><stop offset="0.9472" stop-color="#000" stop-opacity="0.06"/><stop offset="0.9498" stop-color="#000" stop-opacity="0.054"/><stop offset="0.9524" stop-color="#000" stop-opacity="0.049"/><stop offset="0.9547" stop-color="#000" stop-opacity="0.044"/><stop offset="0.9551" stop-color="#000" stop-opacity="0.044"/><stop offset="0.9577" stop-color="#000" stop-opacity="0.04"/><stop offset="0.9603" stop-color="#000" stop-opacity="0.036"/><stop offset="0.9629" stop-color="#000" stop-opacity="0.032"/><stop offset="0.9655" stop-color="#000" stop-opacity="0.029"/><stop offset="0.9682" stop-color="#000" stop-opacity="0.025"/><stop offset="0.9708" stop-color="#000" stop-opacity="0.022"/><stop offset="0.9734" stop-color="#000" stop-opacity="0.019"/><stop offset="0.976" stop-color="#000" stop-opacity="0.016"/><stop offset="0.9774" stop-color="#000" stop-opacity="0.015"/><stop offset="0.9786" stop-color="#000" stop-opacity="0.014"/><stop offset="0.9812" stop-color="#000" stop-opacity="0.011"/><stop offset="0.9839" stop-color="#000" stop-opacity="0.008"/><stop offset="0.9865" stop-color="#000" stop-opacity="0.006"/><stop offset="0.9891" stop-color="#000" stop-opacity="0.004"/><stop offset="0.9917" stop-color="#000" stop-opacity="0.002"/><stop offset="0.9943" stop-color="#000" stop-opacity="0"/></radialGradient><radialGradient id="gUd" gradientUnits="userSpaceOnUse" cx="0" cy="0" r="1.1977" gradientTransform="translate(350.0 377.3) scale(284.0 207.2)"><stop offset="0.7369" stop-color="#fff" stop-opacity="0"/><stop offset="0.7379" stop-color="#fff" stop-opacity="0.001"/><stop offset="0.7408" stop-color="#fff" stop-opacity="0.005"/><stop offset="0.7438" stop-color="#fff" stop-opacity="0.009"/><stop offset="0.7467" stop-color="#fff" stop-opacity="0.013"/><stop offset="0.7496" stop-color="#fff" stop-opacity="0.017"/><stop offset="0.7526" stop-color="#fff" stop-opacity="0.021"/><stop offset="0.7555" stop-color="#fff" stop-opacity="0.026"/><stop offset="0.7585" stop-color="#fff" stop-opacity="0.03"/><stop offset="0.7587" stop-color="#fff" stop-opacity="0.03"/><stop offset="0.7614" stop-color="#fff" stop-opacity="0.035"/><stop offset="0.7643" stop-color="#fff" stop-opacity="0.041"/><stop offset="0.7673" stop-color="#fff" stop-opacity="0.047"/><stop offset="0.7702" stop-color="#fff" stop-opacity="0.053"/><stop offset="0.7732" stop-color="#fff" stop-opacity="0.058"/><stop offset="0.7761" stop-color="#fff" stop-opacity="0.06"/><stop offset="0.7778" stop-color="#fff" stop-opacity="0.061"/><stop offset="0.779" stop-color="#fff" stop-opacity="0.06"/><stop offset="0.782" stop-color="#fff" stop-opacity="0.056"/><stop offset="0.7849" stop-color="#fff" stop-opacity="0.049"/><stop offset="0.7879" stop-color="#fff" stop-opacity="0.041"/><stop offset="0.7879" stop-color="#fff" stop-opacity="0.04"/><stop offset="0.7908" stop-color="#fff" stop-opacity="0.026"/><stop offset="0.7937" stop-color="#fff" stop-opacity="0.002"/><stop offset="0.794" stop-color="#fff" stop-opacity="0"/><stop offset="0.794" stop-color="#000" stop-opacity="0"/><stop offset="0.7967" stop-color="#000" stop-opacity="0.034"/><stop offset="0.7996" stop-color="#000" stop-opacity="0.085"/><stop offset="0.8026" stop-color="#000" stop-opacity="0.139"/><stop offset="0.8032" stop-color="#000" stop-opacity="0.148"/><stop offset="0.8055" stop-color="#000" stop-opacity="0.188"/><stop offset="0.8084" stop-color="#000" stop-opacity="0.237"/><stop offset="0.8114" stop-color="#000" stop-opacity="0.279"/><stop offset="0.812" stop-color="#000" stop-opacity="0.287"/><stop offset="0.8143" stop-color="#000" stop-opacity="0.311"/><stop offset="0.8173" stop-color="#000" stop-opacity="0.336"/><stop offset="0.8189" stop-color="#000" stop-opacity="0.341"/><stop offset="0.8202" stop-color="#000" stop-opacity="0.337"/><stop offset="0.8231" stop-color="#000" stop-opacity="0.304"/><stop offset="0.8261" stop-color="#000" stop-opacity="0.255"/><stop offset="0.8265" stop-color="#000" stop-opacity="0.247"/><stop offset="0.829" stop-color="#000" stop-opacity="0.189"/><stop offset="0.832" stop-color="#000" stop-opacity="0.097"/><stop offset="0.8349" stop-color="#000" stop-opacity="0"/><stop offset="0.8349" stop-color="#fff" stop-opacity="0"/><stop offset="0.8378" stop-color="#fff" stop-opacity="0.101"/><stop offset="0.8408" stop-color="#fff" stop-opacity="0.202"/><stop offset="0.8425" stop-color="#fff" stop-opacity="0.253"/><stop offset="0.8437" stop-color="#fff" stop-opacity="0.284"/><stop offset="0.8467" stop-color="#fff" stop-opacity="0.355"/><stop offset="0.8496" stop-color="#fff" stop-opacity="0.408"/><stop offset="0.8501" stop-color="#fff" stop-opacity="0.415"/><stop offset="0.8525" stop-color="#fff" stop-opacity="0.441"/><stop offset="0.8552" stop-color="#fff" stop-opacity="0.455"/><stop offset="0.8555" stop-color="#fff" stop-opacity="0.455"/><stop offset="0.8584" stop-color="#fff" stop-opacity="0.441"/><stop offset="0.8614" stop-color="#fff" stop-opacity="0.412"/><stop offset="0.8628" stop-color="#fff" stop-opacity="0.395"/><stop offset="0.8643" stop-color="#fff" stop-opacity="0.374"/><stop offset="0.8672" stop-color="#fff" stop-opacity="0.312"/><stop offset="0.8702" stop-color="#fff" stop-opacity="0.239"/><stop offset="0.8717" stop-color="#fff" stop-opacity="0.202"/><stop offset="0.8731" stop-color="#fff" stop-opacity="0.169"/><stop offset="0.8761" stop-color="#fff" stop-opacity="0.092"/><stop offset="0.879" stop-color="#fff" stop-opacity="0.024"/><stop offset="0.8804" stop-color="#fff" stop-opacity="0"/><stop offset="0.8804" stop-color="#000" stop-opacity="0"/><stop offset="0.8819" stop-color="#000" stop-opacity="0.021"/><stop offset="0.8849" stop-color="#000" stop-opacity="0.053"/><stop offset="0.887" stop-color="#000" stop-opacity="0.069"/><stop offset="0.8878" stop-color="#000" stop-opacity="0.075"/><stop offset="0.8908" stop-color="#000" stop-opacity="0.094"/><stop offset="0.8937" stop-color="#000" stop-opacity="0.109"/><stop offset="0.8964" stop-color="#000" stop-opacity="0.114"/><stop offset="0.8966" stop-color="#000" stop-opacity="0.114"/><stop offset="0.8996" stop-color="#000" stop-opacity="0.111"/><stop offset="0.9025" stop-color="#000" stop-opacity="0.105"/><stop offset="0.9055" stop-color="#000" stop-opacity="0.097"/><stop offset="0.9084" stop-color="#000" stop-opacity="0.089"/><stop offset="0.9086" stop-color="#000" stop-opacity="0.089"/><stop offset="0.9113" stop-color="#000" stop-opacity="0.082"/><stop offset="0.9143" stop-color="#000" stop-opacity="0.075"/><stop offset="0.9172" stop-color="#000" stop-opacity="0.067"/><stop offset="0.9202" stop-color="#000" stop-opacity="0.059"/><stop offset="0.9231" stop-color="#000" stop-opacity="0.051"/><stop offset="0.926" stop-color="#000" stop-opacity="0.045"/><stop offset="0.9263" stop-color="#000" stop-opacity="0.044"/><stop offset="0.929" stop-color="#000" stop-opacity="0.04"/><stop offset="0.9319" stop-color="#000" stop-opacity="0.035"/><stop offset="0.9349" stop-color="#000" stop-opacity="0.03"/><stop offset="0.9378" stop-color="#000" stop-opacity="0.026"/><stop offset="0.9407" stop-color="#000" stop-opacity="0.022"/><stop offset="0.9437" stop-color="#000" stop-opacity="0.018"/><stop offset="0.9466" stop-color="#000" stop-opacity="0.015"/><stop offset="0.9467" stop-color="#000" stop-opacity="0.015"/><stop offset="0.9496" stop-color="#000" stop-opacity="0.012"/><stop offset="0.9525" stop-color="#000" stop-opacity="0.008"/><stop offset="0.9554" stop-color="#000" stop-opacity="0.006"/><stop offset="0.9584" stop-color="#000" stop-opacity="0.003"/><stop offset="0.9613" stop-color="#000" stop-opacity="0"/><stop offset="0.9619" stop-color="#000" stop-opacity="0"/></radialGradient>
<g id="cbar" shape-rendering="crispEdges"><rect x="0" y="0" width="48" height="11.38" fill="#800000"/><rect x="0" y="10.88" width="48" height="11.38" fill="#900000"/><rect x="0" y="21.76" width="48" height="11.38" fill="#a00000"/><rect x="0" y="32.63" width="48" height="11.38" fill="#b00000"/><rect x="0" y="43.51" width="48" height="11.38" fill="#c00000"/><rect x="0" y="54.39" width="48" height="11.38" fill="#d00000"/><rect x="0" y="65.27" width="48" height="11.38" fill="#e10000"/><rect x="0" y="76.15" width="48" height="11.38" fill="#f10000"/><rect x="0" y="87.03" width="48" height="11.38" fill="#ff0200"/><rect x="0" y="97.9" width="48" height="11.38" fill="#ff1200"/><rect x="0" y="108.78" width="48" height="11.38" fill="#ff2200"/><rect x="0" y="119.66" width="48" height="11.38" fill="#ff3300"/><rect x="0" y="130.54" width="48" height="11.38" fill="#ff4300"/><rect x="0" y="141.42" width="48" height="11.38" fill="#ff5300"/><rect x="0" y="152.29" width="48" height="11.38" fill="#ff6300"/><rect x="0" y="163.17" width="48" height="11.38" fill="#ff7300"/><rect x="0" y="174.05" width="48" height="11.38" fill="#ff8400"/><rect x="0" y="184.93" width="48" height="11.38" fill="#ff9400"/><rect x="0" y="195.81" width="48" height="11.38" fill="#ffa400"/><rect x="0" y="206.68" width="48" height="11.38" fill="#ffb400"/><rect x="0" y="217.56" width="48" height="11.38" fill="#ffc400"/><rect x="0" y="228.44" width="48" height="11.38" fill="#ffd500"/><rect x="0" y="239.32" width="48" height="11.38" fill="#ffe500"/><rect x="0" y="250.2" width="48" height="11.38" fill="#fff500"/><rect x="0" y="261.08" width="48" height="11.38" fill="#f9ff06"/><rect x="0" y="271.95" width="48" height="11.38" fill="#e9ff16"/><rect x="0" y="282.83" width="48" height="11.38" fill="#d9ff26"/><rect x="0" y="293.71" width="48" height="11.38" fill="#c8ff37"/><rect x="0" y="304.59" width="48" height="11.38" fill="#b8ff47"/><rect x="0" y="315.47" width="48" height="11.38" fill="#a8ff57"/><rect x="0" y="326.34" width="48" height="11.38" fill="#98ff67"/><rect x="0" y="337.22" width="48" height="11.38" fill="#88ff77"/><rect x="0" y="348.1" width="48" height="11.38" fill="#77ff88"/><rect x="0" y="358.98" width="48" height="11.38" fill="#67ff98"/><rect x="0" y="369.86" width="48" height="11.38" fill="#57ffa8"/><rect x="0" y="380.73" width="48" height="11.38" fill="#47ffb8"/><rect x="0" y="391.61" width="48" height="11.38" fill="#37ffc8"/><rect x="0" y="402.49" width="48" height="11.38" fill="#26ffd9"/><rect x="0" y="413.37" width="48" height="11.38" fill="#16ffe9"/><rect x="0" y="424.25" width="48" height="11.38" fill="#06fff9"/><rect x="0" y="435.12" width="48" height="11.38" fill="#00f5ff"/><rect x="0" y="446" width="48" height="11.38" fill="#00e5ff"/><rect x="0" y="456.88" width="48" height="11.38" fill="#00d4ff"/><rect x="0" y="467.76" width="48" height="11.38" fill="#00c4ff"/><rect x="0" y="478.64" width="48" height="11.38" fill="#00b4ff"/><rect x="0" y="489.52" width="48" height="11.38" fill="#00a4ff"/><rect x="0" y="500.39" width="48" height="11.38" fill="#0094ff"/><rect x="0" y="511.27" width="48" height="11.38" fill="#0084ff"/><rect x="0" y="522.15" width="48" height="11.38" fill="#0073ff"/><rect x="0" y="533.03" width="48" height="11.38" fill="#0063ff"/><rect x="0" y="543.91" width="48" height="11.38" fill="#0053ff"/><rect x="0" y="554.78" width="48" height="11.38" fill="#0043ff"/><rect x="0" y="565.66" width="48" height="11.38" fill="#0033ff"/><rect x="0" y="576.54" width="48" height="11.38" fill="#0022ff"/><rect x="0" y="587.42" width="48" height="11.38" fill="#0012ff"/><rect x="0" y="598.3" width="48" height="11.38" fill="#0002ff"/><rect x="0" y="609.18" width="48" height="11.38" fill="#0000f1"/><rect x="0" y="620.05" width="48" height="11.38" fill="#0000e1"/><rect x="0" y="630.93" width="48" height="11.38" fill="#0000d0"/><rect x="0" y="641.81" width="48" height="11.38" fill="#0000c0"/><rect x="0" y="652.69" width="48" height="11.38" fill="#0000b0"/><rect x="0" y="663.57" width="48" height="11.38" fill="#0000a0"/><rect x="0" y="674.44" width="48" height="11.38" fill="#000090"/><rect x="0" y="685.32" width="48" height="10.88" fill="#000080"/><rect x="0" y="0" width="48" height="696.2" fill="none" stroke="#262626" stroke-opacity="0.5" stroke-width="2"/><path d="M48 348.1h-7.5" stroke="#262626" stroke-width="1.8"/></g>
</defs>
<rect width="2421" height="2050" fill="#fff"/>
<g transform="translate(188.3 65.5)">
<g clip-path="url(#cpB)"><g filter="url(#jet)"><rect x="-5" y="-5" width="710" height="710" fill="#828282"/><g fill="#808080"><circle cx="350.0" cy="298.6" r="187" clip-path="url(#cpI)"/><ellipse cx="350.0" cy="334" rx="146" ry="15.5"/></g><g clip-path="url(#cpL)"><ellipse cx="350.0" cy="301.8" rx="356.5" ry="484" fill="#808080" clip-path="url(#cpBd)"/><ellipse cx="350.0" cy="301.8" rx="282" ry="295.7" fill="#828282"/><ellipse cx="213" cy="411.7" rx="44" ry="35" fill="#808080"/><ellipse cx="487" cy="411.7" rx="44" ry="35" fill="#808080"/><ellipse cx="140" cy="382.7" rx="15" ry="14" fill="#808080"/><ellipse cx="560" cy="382.7" rx="15" ry="14" fill="#808080"/></g><g fill="none" stroke-linecap="round"><path d="M63 364.5L142 316" stroke="#fff" stroke-opacity="0.026" stroke-width="7"/><path d="M70 369.5L148 323.5" stroke="#000" stroke-opacity="0.026" stroke-width="7"/></g><g transform="translate(700.0 0) scale(-1 1)" fill="none" stroke-linecap="round"><path d="M63 364.5L142 316" stroke="#fff" stroke-opacity="0.026" stroke-width="7"/><path d="M70 369.5L148 323.5" stroke="#000" stroke-opacity="0.026" stroke-width="7"/></g><g mask="url(#mT)"><ellipse cx="350.0" cy="301.8" rx="372.5" ry="407.12" fill="url(#gTa)"/></g><g mask="url(#mT2)"><ellipse cx="350.0" cy="377.3" rx="355" ry="259" fill="url(#gUa)"/></g><g mask="url(#mDu)"><circle cx="350.0" cy="298.6" r="229" fill="url(#gDa)"/></g><g mask="url(#mDl)"><circle cx="350.0" cy="298.6" r="229" fill="url(#gDia)"/></g><g mask="url(#mXs)"><g mask="url(#mRo)"><circle cx="350.0" cy="439" r="241.6" fill="url(#gRoa)"/></g><g mask="url(#mRi)"><circle cx="350.0" cy="439" r="241.6" fill="url(#gRia)"/></g><g mask="url(#mRb)"><circle cx="350.0" cy="439" r="241.6" fill="url(#gRba)"/></g><g mask="url(#mRr)"><circle cx="350.0" cy="439" r="241.6" fill="url(#gRra)"/></g></g><g mask="url(#mXt)"><g mask="url(#mRt)"><circle cx="350.0" cy="439" r="241.6" fill="url(#gRta)"/></g></g><ellipse cx="152.2" cy="366.6" rx="3.6" ry="4.6" fill="url(#dk)" opacity="0.198"/><ellipse cx="547.8" cy="366.6" rx="3.6" ry="4.6" fill="url(#dk)" opacity="0.198"/><ellipse cx="161.4" cy="367.8" rx="3.9" ry="6.4" fill="url(#dw)" opacity="0.911"/><ellipse cx="538.6" cy="367.8" rx="3.9" ry="6.4" fill="url(#dw)" opacity="0.911"/><ellipse cx="169.6" cy="366.6" rx="3.8" ry="5.0" fill="url(#dk)" opacity="0.791"/><ellipse cx="530.4" cy="366.6" rx="3.8" ry="5.0" fill="url(#dk)" opacity="0.791"/><ellipse cx="178.9" cy="366.6" rx="4" ry="5" fill="url(#dw)" opacity="0.071"/><ellipse cx="521.1" cy="366.6" rx="4" ry="5" fill="url(#dw)" opacity="0.071"/></g></g>
<rect x="0" y="0" width="700" height="700" fill="none" stroke="#262626" stroke-width="4.2"/><path d="M175 0v10M175 700v-10M0 175h10M700 175h-10M350 0v10M350 700v-10M0 350h10M700 350h-10M525 0v10M525 700v-10M0 525h10M700 525h-10" stroke="#262626" stroke-width="3.2" fill="none"/><g font-family="'Liberation Serif','Times New Roman',serif" font-size="52" fill="#262626"><text x="-0.3" y="764.3" text-anchor="middle">0</text><text x="-15.8" y="19" text-anchor="end">0</text><text x="174.7" y="764.3" text-anchor="middle">200</text><text x="-15.8" y="194" text-anchor="end">200</text><text x="349.7" y="764.3" text-anchor="middle">400</text><text x="-15.8" y="369" text-anchor="end">400</text><text x="524.7" y="764.3" text-anchor="middle">600</text><text x="-15.8" y="544" text-anchor="end">600</text><text x="699.7" y="764.3" text-anchor="middle">800</text><text x="-15.8" y="719" text-anchor="end">800</text></g><g font-family="'Liberation Serif','Times New Roman',serif" font-weight="bold" fill="#262626"><text x="349.4" y="829" font-size="57" text-anchor="middle">Distance (m)</text><text transform="translate(-113.6 350) rotate(-90)" font-size="57" text-anchor="middle">Depth (m)</text><text x="350.3" y="-12.4" font-size="52" text-anchor="middle" fill="#000">FDM-Acoustic-Vz</text></g><text x="414.1" y="927.5" font-family="'Liberation Serif','Times New Roman',serif" font-size="78" text-anchor="middle" fill="#000">(<tspan font-weight="bold">a</tspan>)</text><use href="#cbar" x="758" y="1.3"/><g font-family="'Liberation Serif','Times New Roman',serif" font-size="47" fill="#262626"><text x="819.5" y="18.5">0.5</text><text x="819.5" y="366.8">0</text><text x="819.5" y="715.4">−<tspan dx="-3.5">0.5</tspan></text></g>
</g>
<g transform="translate(1498.8 68.7)">
<g clip-path="url(#cpB)"><g filter="url(#jet)"><rect x="-5" y="-5" width="710" height="710" fill="#808080"/><g clip-path="url(#cpL)"><ellipse cx="350.0" cy="301.8" rx="282" ry="295.7" fill="#828282"/></g><g fill="none" stroke-linecap="round"><path d="M63 364.5L142 316" stroke="#fff" stroke-opacity="0.026" stroke-width="7"/><path d="M70 369.5L148 323.5" stroke="#000" stroke-opacity="0.026" stroke-width="7"/></g><g transform="translate(700.0 0) scale(-1 1)" fill="none" stroke-linecap="round"><path d="M63 364.5L142 316" stroke="#fff" stroke-opacity="0.026" stroke-width="7"/><path d="M70 369.5L148 323.5" stroke="#000" stroke-opacity="0.026" stroke-width="7"/></g><g mask="url(#mT)"><ellipse cx="350.0" cy="301.8" rx="372.5" ry="407.12" fill="url(#gTb)"/></g><g mask="url(#mT2)"><ellipse cx="350.0" cy="377.3" rx="355" ry="259" fill="url(#gUb)"/></g><g mask="url(#mDu)"><circle cx="350.0" cy="298.6" r="229" fill="url(#gDb)"/></g><g mask="url(#mDl)"><circle cx="350.0" cy="298.6" r="229" fill="url(#gDib)"/></g><g mask="url(#mXs)"><g mask="url(#mRo)"><circle cx="350.0" cy="439" r="241.6" fill="url(#gRob)"/></g><g mask="url(#mRi)"><circle cx="350.0" cy="439" r="241.6" fill="url(#gRib)"/></g><g mask="url(#mRb)"><circle cx="350.0" cy="439" r="241.6" fill="url(#gRbb)"/></g><g mask="url(#mRr)"><circle cx="350.0" cy="439" r="241.6" fill="url(#gRrb)"/></g></g><g mask="url(#mXt)"><g mask="url(#mRt)"><circle cx="350.0" cy="439" r="241.6" fill="url(#gRtb)"/></g></g><ellipse cx="152.2" cy="366.6" rx="3.6" ry="4.6" fill="url(#dk)" opacity="0.198"/><ellipse cx="547.8" cy="366.6" rx="3.6" ry="4.6" fill="url(#dk)" opacity="0.198"/><ellipse cx="161.4" cy="367.8" rx="3.9" ry="6.4" fill="url(#dw)" opacity="0.911"/><ellipse cx="538.6" cy="367.8" rx="3.9" ry="6.4" fill="url(#dw)" opacity="0.911"/><ellipse cx="169.6" cy="366.6" rx="3.8" ry="5.0" fill="url(#dk)" opacity="0.791"/><ellipse cx="530.4" cy="366.6" rx="3.8" ry="5.0" fill="url(#dk)" opacity="0.791"/><ellipse cx="178.9" cy="366.6" rx="4" ry="5" fill="url(#dw)" opacity="0.071"/><ellipse cx="521.1" cy="366.6" rx="4" ry="5" fill="url(#dw)" opacity="0.071"/></g></g>
<rect x="0" y="0" width="700" height="700" fill="none" stroke="#262626" stroke-width="4.2"/><path d="M175 0v10M175 700v-10M0 175h10M700 175h-10M350 0v10M350 700v-10M0 350h10M700 350h-10M525 0v10M525 700v-10M0 525h10M700 525h-10" stroke="#262626" stroke-width="3.2" fill="none"/><g font-family="'Liberation Serif','Times New Roman',serif" font-size="52" fill="#262626"><text x="-0.3" y="764.3" text-anchor="middle">0</text><text x="-15.8" y="19" text-anchor="end">0</text><text x="174.7" y="764.3" text-anchor="middle">200</text><text x="-15.8" y="194" text-anchor="end">200</text><text x="349.7" y="764.3" text-anchor="middle">400</text><text x="-15.8" y="369" text-anchor="end">400</text><text x="524.7" y="764.3" text-anchor="middle">600</text><text x="-15.8" y="544" text-anchor="end">600</text><text x="699.7" y="764.3" text-anchor="middle">800</text><text x="-15.8" y="719" text-anchor="end">800</text></g><g font-family="'Liberation Serif','Times New Roman',serif" font-weight="bold" fill="#262626"><text x="349.4" y="826.5" font-size="57" text-anchor="middle">Distance (m)</text><text transform="translate(-113.6 350) rotate(-90)" font-size="57" text-anchor="middle">Depth (m)</text><text x="350.3" y="-12.4" font-size="52" text-anchor="middle" fill="#000">LBM-SRT-Vz</text></g><text x="413.3" y="924.4" font-family="'Liberation Serif','Times New Roman',serif" font-size="78" text-anchor="middle" fill="#000">(<tspan font-weight="bold">b</tspan>)</text><use href="#cbar" x="758" y="1.3"/><g font-family="'Liberation Serif','Times New Roman',serif" font-size="47" fill="#262626"><text x="819.5" y="18.5">0.5</text><text x="819.5" y="366.8">0</text><text x="819.5" y="715.4">−<tspan dx="-3.5">0.5</tspan></text></g>
</g>
<g transform="translate(188.2 1088.7)">
<g clip-path="url(#cpB)"><g filter="url(#jet)"><rect x="-5" y="-5" width="710" height="710" fill="#818181"/><g fill="#808080"><circle cx="350.0" cy="298.6" r="187" clip-path="url(#cpI)"/><ellipse cx="350.0" cy="334" rx="146" ry="15.5"/></g><g clip-path="url(#cpL)"><ellipse cx="350.0" cy="301.8" rx="342" ry="388" fill="#808080" clip-path="url(#cpBd)"/><ellipse cx="350.0" cy="301.8" rx="282" ry="295.7" fill="#828282"/><ellipse cx="212.7" cy="421.8" rx="25" ry="42" fill="#818181"/><ellipse cx="487.3" cy="421.8" rx="25" ry="42" fill="#818181"/><ellipse cx="350" cy="400.9" rx="21" ry="63" fill="#818181"/><ellipse cx="141.4" cy="384" rx="14" ry="13" fill="#818181"/><ellipse cx="558.6" cy="384" rx="14" ry="13" fill="#818181"/></g><g fill="none" stroke-linecap="round"><path d="M63 364.5L142 316" stroke="#fff" stroke-opacity="0.026" stroke-width="7"/><path d="M70 369.5L148 323.5" stroke="#000" stroke-opacity="0.026" stroke-width="7"/></g><g transform="translate(700.0 0) scale(-1 1)" fill="none" stroke-linecap="round"><path d="M63 364.5L142 316" stroke="#fff" stroke-opacity="0.026" stroke-width="7"/><path d="M70 369.5L148 323.5" stroke="#000" stroke-opacity="0.026" stroke-width="7"/></g><g mask="url(#mT)"><ellipse cx="350.0" cy="301.8" rx="372.5" ry="407.12" fill="url(#gTc)"/></g><g mask="url(#mT2)"><ellipse cx="350.0" cy="377.3" rx="355" ry="259" fill="url(#gUc)"/></g><g mask="url(#mDu)"><circle cx="350.0" cy="298.6" r="229" fill="url(#gDc)"/></g><g mask="url(#mDl)"><circle cx="350.0" cy="298.6" r="229" fill="url(#gDic)"/></g><g mask="url(#mXs)"><g mask="url(#mRo)"><circle cx="350.0" cy="439" r="241.6" fill="url(#gRoc)"/></g><g mask="url(#mRi)"><circle cx="350.0" cy="439" r="241.6" fill="url(#gRic)"/></g><g mask="url(#mRb)"><circle cx="350.0" cy="439" r="241.6" fill="url(#gRbc)"/></g><g mask="url(#mRr)"><circle cx="350.0" cy="439" r="241.6" fill="url(#gRrc)"/></g></g><g mask="url(#mXt)"><g mask="url(#mRt)"><circle cx="350.0" cy="439" r="241.6" fill="url(#gRtc)"/></g></g><ellipse cx="152.2" cy="366.6" rx="3.6" ry="4.6" fill="url(#dk)" opacity="0.198"/><ellipse cx="547.8" cy="366.6" rx="3.6" ry="4.6" fill="url(#dk)" opacity="0.198"/><ellipse cx="161.4" cy="367.8" rx="3.9" ry="6.4" fill="url(#dw)" opacity="0.911"/><ellipse cx="538.6" cy="367.8" rx="3.9" ry="6.4" fill="url(#dw)" opacity="0.911"/><ellipse cx="169.6" cy="366.6" rx="3.8" ry="5.0" fill="url(#dk)" opacity="0.791"/><ellipse cx="530.4" cy="366.6" rx="3.8" ry="5.0" fill="url(#dk)" opacity="0.791"/><ellipse cx="178.9" cy="366.6" rx="4" ry="5" fill="url(#dw)" opacity="0.071"/><ellipse cx="521.1" cy="366.6" rx="4" ry="5" fill="url(#dw)" opacity="0.071"/></g></g>
<rect x="0" y="0" width="700" height="700" fill="none" stroke="#262626" stroke-width="4.2"/><path d="M175 0v10M175 700v-10M0 175h10M700 175h-10M350 0v10M350 700v-10M0 350h10M700 350h-10M525 0v10M525 700v-10M0 525h10M700 525h-10" stroke="#262626" stroke-width="3.2" fill="none"/><g font-family="'Liberation Serif','Times New Roman',serif" font-size="52" fill="#262626"><text x="-0.3" y="764.3" text-anchor="middle">0</text><text x="-15.8" y="19" text-anchor="end">0</text><text x="174.7" y="764.3" text-anchor="middle">200</text><text x="-15.8" y="194" text-anchor="end">200</text><text x="349.7" y="764.3" text-anchor="middle">400</text><text x="-15.8" y="369" text-anchor="end">400</text><text x="524.7" y="764.3" text-anchor="middle">600</text><text x="-15.8" y="544" text-anchor="end">600</text><text x="699.7" y="764.3" text-anchor="middle">800</text><text x="-15.8" y="719" text-anchor="end">800</text></g><g font-family="'Liberation Serif','Times New Roman',serif" font-weight="bold" fill="#262626"><text x="349.4" y="828.7" font-size="57" text-anchor="middle">Distance (m)</text><text transform="translate(-113.6 350) rotate(-90)" font-size="57" text-anchor="middle">Depth (m)</text><text x="350.3" y="-12.4" font-size="52" text-anchor="middle" fill="#000">LBM-TRT-Vz</text></g><text x="414.1" y="929.4" font-family="'Liberation Serif','Times New Roman',serif" font-size="78" text-anchor="middle" fill="#000">(<tspan font-weight="bold">c</tspan>)</text><use href="#cbar" x="758" y="1.3"/><g font-family="'Liberation Serif','Times New Roman',serif" font-size="47" fill="#262626"><text x="819.5" y="18.5">0.5</text><text x="819.5" y="366.8">0</text><text x="819.5" y="715.4">−<tspan dx="-3.5">0.5</tspan></text></g>
</g>
<g transform="translate(1497.6 1088.7)">
<g clip-path="url(#cpB)"><g filter="url(#jet)"><rect x="-5" y="-5" width="710" height="710" fill="#808080"/><g clip-path="url(#cpL)"><ellipse cx="350.0" cy="301.8" rx="282" ry="295.7" fill="#828282"/><ellipse cx="212.7" cy="405" rx="24" ry="52" fill="#808080"/><ellipse cx="487.3" cy="405" rx="24" ry="52" fill="#808080"/><ellipse cx="350" cy="398" rx="20" ry="62" fill="#808080"/><ellipse cx="141.4" cy="384" rx="14" ry="13" fill="#808080"/><ellipse cx="558.6" cy="384" rx="14" ry="13" fill="#808080"/></g><g fill="none" stroke-linecap="round"><path d="M63 364.5L142 316" stroke="#fff" stroke-opacity="0.026" stroke-width="7"/><path d="M70 369.5L148 323.5" stroke="#000" stroke-opacity="0.026" stroke-width="7"/></g><g transform="translate(700.0 0) scale(-1 1)" fill="none" stroke-linecap="round"><path d="M63 364.5L142 316" stroke="#fff" stroke-opacity="0.026" stroke-width="7"/><path d="M70 369.5L148 323.5" stroke="#000" stroke-opacity="0.026" stroke-width="7"/></g><g mask="url(#mT)"><ellipse cx="350.0" cy="301.8" rx="372.5" ry="407.12" fill="url(#gTd)"/></g><g mask="url(#mT2)"><ellipse cx="350.0" cy="377.3" rx="355" ry="259" fill="url(#gUd)"/></g><g mask="url(#mDu)"><circle cx="350.0" cy="298.6" r="229" fill="url(#gDd)"/></g><g mask="url(#mDl)"><circle cx="350.0" cy="298.6" r="229" fill="url(#gDid)"/></g><g mask="url(#mXs)"><g mask="url(#mRo)"><circle cx="350.0" cy="439" r="241.6" fill="url(#gRod)"/></g><g mask="url(#mRi)"><circle cx="350.0" cy="439" r="241.6" fill="url(#gRid)"/></g><g mask="url(#mRb)"><circle cx="350.0" cy="439" r="241.6" fill="url(#gRbd)"/></g><g mask="url(#mRr)"><circle cx="350.0" cy="439" r="241.6" fill="url(#gRrd)"/></g></g><g mask="url(#mXt)"><g mask="url(#mRt)"><circle cx="350.0" cy="439" r="241.6" fill="url(#gRtd)"/></g></g><ellipse cx="152.2" cy="366.6" rx="3.6" ry="4.6" fill="url(#dk)" opacity="0.198"/><ellipse cx="547.8" cy="366.6" rx="3.6" ry="4.6" fill="url(#dk)" opacity="0.198"/><ellipse cx="161.4" cy="367.8" rx="3.9" ry="6.4" fill="url(#dw)" opacity="0.911"/><ellipse cx="538.6" cy="367.8" rx="3.9" ry="6.4" fill="url(#dw)" opacity="0.911"/><ellipse cx="169.6" cy="366.6" rx="3.8" ry="5.0" fill="url(#dk)" opacity="0.791"/><ellipse cx="530.4" cy="366.6" rx="3.8" ry="5.0" fill="url(#dk)" opacity="0.791"/><ellipse cx="178.9" cy="366.6" rx="4" ry="5" fill="url(#dw)" opacity="0.071"/><ellipse cx="521.1" cy="366.6" rx="4" ry="5" fill="url(#dw)" opacity="0.071"/></g></g>
<rect x="0" y="0" width="700" height="700" fill="none" stroke="#262626" stroke-width="4.2"/><path d="M175 0v10M175 700v-10M0 175h10M700 175h-10M350 0v10M350 700v-10M0 350h10M700 350h-10M525 0v10M525 700v-10M0 525h10M700 525h-10" stroke="#262626" stroke-width="3.2" fill="none"/><g font-family="'Liberation Serif','Times New Roman',serif" font-size="52" fill="#262626"><text x="-0.3" y="764.3" text-anchor="middle">0</text><text x="-15.8" y="19" text-anchor="end">0</text><text x="174.7" y="764.3" text-anchor="middle">200</text><text x="-15.8" y="194" text-anchor="end">200</text><text x="349.7" y="764.3" text-anchor="middle">400</text><text x="-15.8" y="369" text-anchor="end">400</text><text x="524.7" y="764.3" text-anchor="middle">600</text><text x="-15.8" y="544" text-anchor="end">600</text><text x="699.7" y="764.3" text-anchor="middle">800</text><text x="-15.8" y="719" text-anchor="end">800</text></g><g font-family="'Liberation Serif','Times New Roman',serif" font-weight="bold" fill="#262626"><text x="349.4" y="828.7" font-size="57" text-anchor="middle">Distance (m)</text><text transform="translate(-113.6 350) rotate(-90)" font-size="57" text-anchor="middle">Depth (m)</text><text x="350.3" y="-12.4" font-size="52" text-anchor="middle" fill="#000">LBM-MRT-Vz</text></g><text x="415" y="929.4" font-family="'Liberation Serif','Times New Roman',serif" font-size="78" text-anchor="middle" fill="#000">(<tspan font-weight="bold">d</tspan>)</text><use href="#cbar" x="758" y="1.3"/><g font-family="'Liberation Serif','Times New Roman',serif" font-size="47" fill="#262626"><text x="819.5" y="18.5">0.5</text><text x="819.5" y="366.8">0</text><text x="819.5" y="715.4">−<tspan dx="-3.5">0.5</tspan></text></g>
</g>
</svg>
</body></html>
